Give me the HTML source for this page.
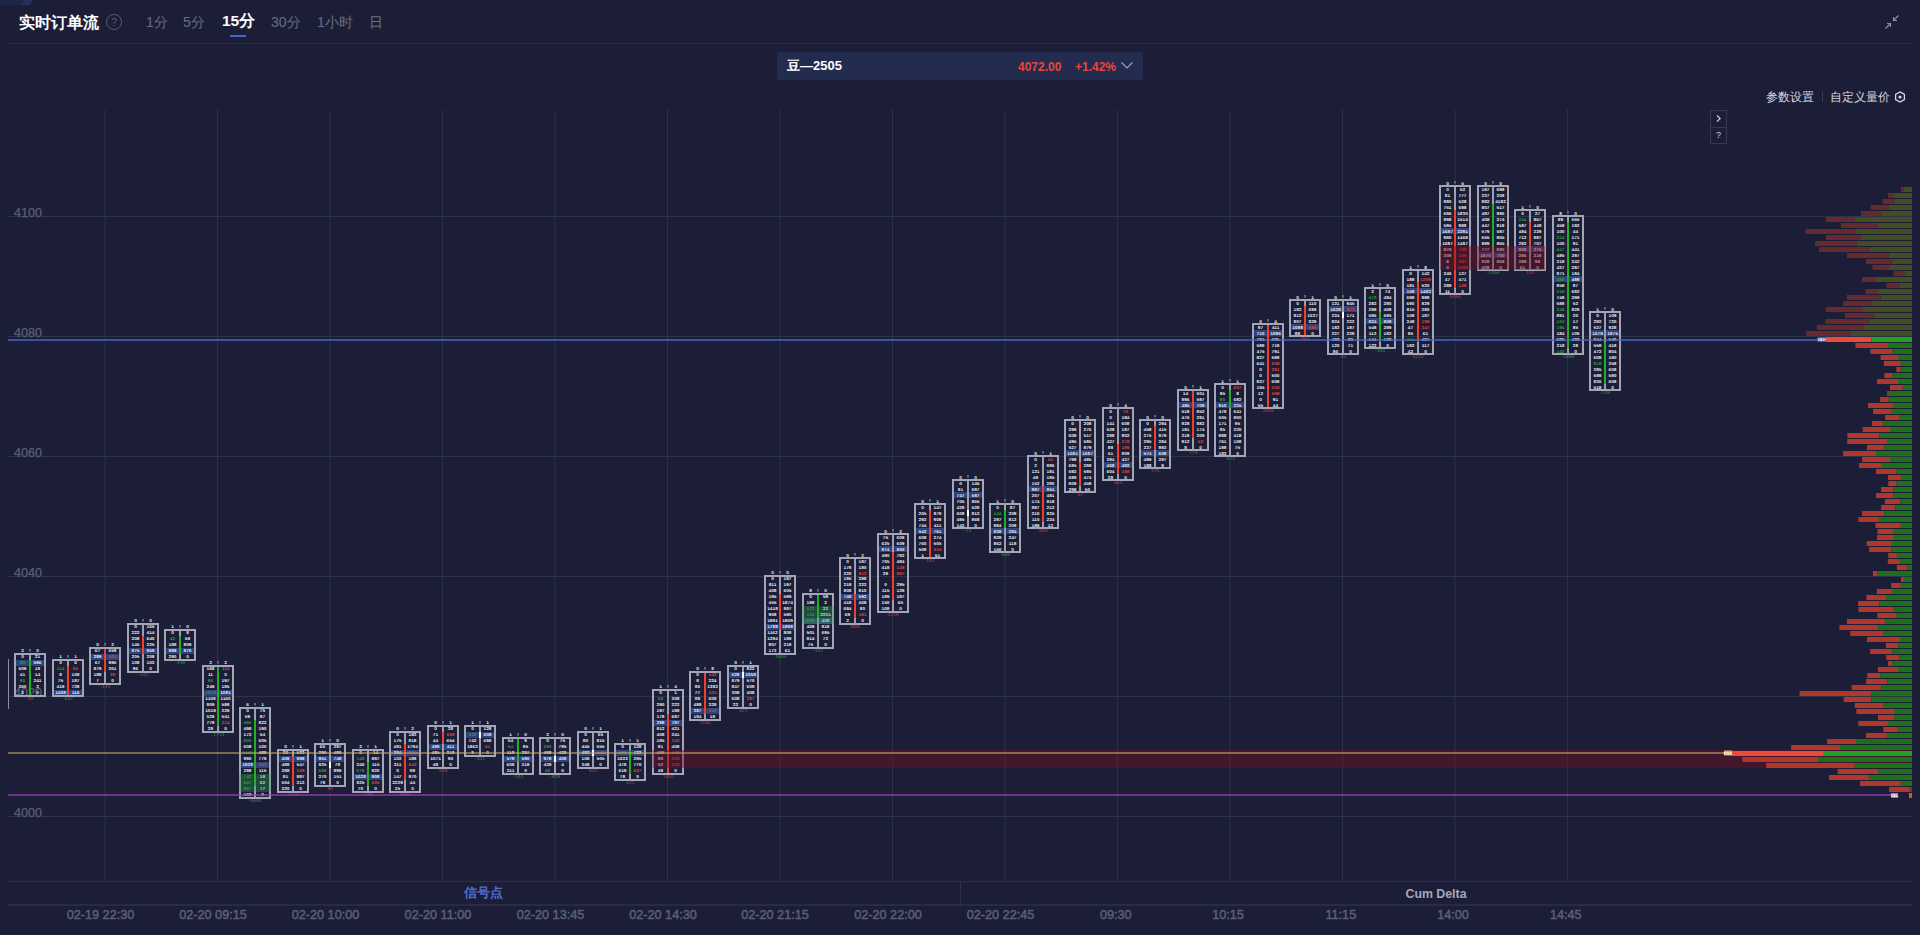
<!DOCTYPE html>
<html><head><meta charset="utf-8"><title>实时订单流</title>
<style>
html,body{margin:0;padding:0;background:#1b1e36;width:1920px;height:935px;overflow:hidden;font-family:"Liberation Sans",sans-serif;}
.abs{position:absolute;white-space:nowrap;}
svg{position:absolute;left:0;top:0;}
svg text{font-family:"Liberation Sans",sans-serif;}
.yl{font-size:12.6px;fill:#5c6077;stroke:#5c6077;stroke-width:0.25px;}
.c{font-size:4.8px;font-weight:bold;fill:#e6e8f0;text-anchor:middle;}
.cg{font-size:4.8px;font-weight:bold;fill:#2f9a3a;text-anchor:middle;}
.cr{font-size:4.8px;font-weight:bold;fill:#d8443c;text-anchor:middle;}
.br{font-size:5px;fill:#c8383a;text-anchor:middle;}
.bg{font-size:5px;fill:#2e9a36;text-anchor:middle;}
.lab{font-size:4px;font-weight:bold;fill:#fff;text-anchor:middle;}
.sig{font-size:12.5px;fill:#4f6fd0;text-anchor:middle;font-weight:bold;}
.cum{font-size:13.5px;fill:#a4a8b8;text-anchor:middle;font-weight:bold;}
.tl{font-size:12.7px;fill:#5c6076;stroke:#5c6076;stroke-width:0.45px;text-anchor:middle;}
.tab{font-size:14px;color:#6a6e85;top:13px;line-height:18px;}
</style></head><body>
<div class="abs" style="left:0;top:0;width:30px;height:5px;background:#1f2545;"></div>
<div class="abs" style="left:22px;top:0;width:9px;height:5px;background:#253060;transform:skewX(-40deg);"></div>
<div class="abs" style="left:19px;top:12.5px;font-size:16px;font-weight:bold;color:#fff;line-height:20px;">实时订单流</div>
<div class="abs" style="left:106px;top:14px;width:14px;height:14px;border:1px solid #555a70;border-radius:50%;color:#555a70;font-size:11px;line-height:14px;text-align:center;">?</div>
<div class="abs tab" style="left:146px;">1分</div>
<div class="abs tab" style="left:183px;">5分</div>
<div class="abs tab" style="left:222px;top:12px;font-size:15.5px;font-weight:bold;color:#fff;">15分</div>
<div class="abs" style="left:230px;top:35px;width:16px;height:2px;background:#3f66d0;"></div>
<div class="abs tab" style="left:271px;">30分</div>
<div class="abs tab" style="left:317px;">1小时</div>
<div class="abs tab" style="left:369px;">日</div>
<div class="abs" style="left:8px;top:43px;width:1904px;height:1px;background:#252943;"></div>
<svg class="abs" style="left:1883px;top:13px" width="18" height="18" viewBox="0 0 18 18"><g stroke="#8a8ea0" stroke-width="1.2" fill="none"><path d="M2.5 15.5 L7.5 10.5 M4 10.5 H7.5 V14"/><path d="M15.5 2.5 L10.5 7.5 M14 7.5 H10.5 V4"/></g></svg>
<div class="abs" style="left:777px;top:52px;width:366px;height:28px;background:#232b4e;border-radius:2px;"></div>
<div class="abs" style="left:787px;top:57px;font-size:13px;font-weight:bold;color:#fff;line-height:18px;">豆—2505</div>
<div class="abs" style="left:1018px;top:58px;font-size:12px;font-weight:bold;color:#e8453f;line-height:18px;">4072.00</div>
<div class="abs" style="left:1075px;top:58px;font-size:12px;font-weight:bold;color:#e8453f;line-height:18px;">+1.42%</div>
<svg class="abs" style="left:1120px;top:60px" width="14" height="10" viewBox="0 0 14 10"><path d="M1.5 2.5 L7 8 L12.5 2.5" stroke="#9aa0b8" stroke-width="1.2" fill="none"/></svg>
<div class="abs" style="left:1766px;top:89px;font-size:12px;color:#d4d6de;line-height:16px;">参数设置</div>
<div class="abs" style="left:1822px;top:92px;width:1px;height:10px;background:#3a3e55;"></div>
<div class="abs" style="left:1830px;top:89px;font-size:12px;color:#d4d6de;line-height:16px;">自定义量价</div>
<svg class="abs" style="left:1894px;top:91px" width="12" height="12" viewBox="0 0 12 12"><path d="M6 0.9 L10.4 3.45 L10.4 8.55 L6 11.1 L1.6 8.55 L1.6 3.45 Z" stroke="#d4d6de" stroke-width="1.3" fill="none"/><circle cx="6" cy="6" r="1.6" fill="#d4d6de"/></svg>
<svg width="1920" height="935" viewBox="0 0 1920 935">
<rect x="104.5" y="110" width="1" height="770" fill="#2e3249"/>
<rect x="217.0" y="110" width="1" height="770" fill="#2e3249"/>
<rect x="329.5" y="110" width="1" height="770" fill="#2e3249"/>
<rect x="442.0" y="110" width="1" height="770" fill="#2e3249"/>
<rect x="554.5" y="110" width="1" height="770" fill="#2e3249"/>
<rect x="667.0" y="110" width="1" height="770" fill="#2e3249"/>
<rect x="779.5" y="110" width="1" height="770" fill="#2e3249"/>
<rect x="892.0" y="110" width="1" height="770" fill="#2e3249"/>
<rect x="1004.5" y="110" width="1" height="770" fill="#2e3249"/>
<rect x="1117.0" y="110" width="1" height="770" fill="#2e3249"/>
<rect x="1229.5" y="110" width="1" height="770" fill="#2e3249"/>
<rect x="1342.0" y="110" width="1" height="770" fill="#2e3249"/>
<rect x="1454.5" y="110" width="1" height="770" fill="#2e3249"/>
<rect x="1567.0" y="110" width="1" height="770" fill="#2e3249"/>
<rect x="8" y="216" width="1904" height="1" fill="#2e3249"/>
<rect x="8" y="336" width="1904" height="1" fill="#2e3249"/>
<rect x="8" y="456" width="1904" height="1" fill="#2e3249"/>
<rect x="8" y="576" width="1904" height="1" fill="#2e3249"/>
<rect x="8" y="696" width="1904" height="1" fill="#2e3249"/>
<rect x="8" y="816" width="1904" height="1" fill="#2e3249"/>
<text x="14" y="217" class="yl">4100</text>
<text x="14" y="337" class="yl">4080</text>
<text x="14" y="457" class="yl">4060</text>
<text x="14" y="577" class="yl">4040</text>
<text x="14" y="697" class="yl">4020</text>
<text x="14" y="817" class="yl">4000</text>
<rect x="15" y="660" width="30" height="6" fill="rgba(70,110,210,0.45)"/>
<rect x="29" y="654" width="2" height="42" fill="#9a9eb0"/>
<rect x="29" y="660" width="2" height="36" fill="#22b022"/>
<rect x="15" y="654" width="30" height="42" fill="none" stroke="#a2a6b6" stroke-width="2"/>
<rect x="29.1" y="649" width="1.8" height="2.6" fill="#6a6e82"/>
<rect x="53" y="690" width="30" height="6" fill="rgba(70,110,210,0.45)"/>
<rect x="67" y="660" width="2" height="36" fill="#9a9eb0"/>
<rect x="67" y="666" width="2" height="30" fill="#f0402c"/>
<rect x="53" y="660" width="30" height="36" fill="none" stroke="#a2a6b6" stroke-width="2"/>
<rect x="67.1" y="655" width="1.8" height="2.6" fill="#6a6e82"/>
<rect x="90" y="654" width="30" height="6" fill="rgba(70,110,210,0.45)"/>
<rect x="104" y="648" width="2" height="36" fill="#9a9eb0"/>
<rect x="104" y="648" width="2" height="24" fill="#f0402c"/>
<rect x="90" y="648" width="30" height="36" fill="none" stroke="#a2a6b6" stroke-width="2"/>
<rect x="104.1" y="643" width="1.8" height="2.6" fill="#6a6e82"/>
<rect x="128" y="648" width="30" height="6" fill="rgba(70,110,210,0.45)"/>
<rect x="142" y="624" width="2" height="48" fill="#9a9eb0"/>
<rect x="142" y="636" width="2" height="18" fill="#f0402c"/>
<rect x="128" y="624" width="30" height="48" fill="none" stroke="#a2a6b6" stroke-width="2"/>
<rect x="142.1" y="619" width="1.8" height="2.6" fill="#6a6e82"/>
<rect x="165" y="648" width="30" height="6" fill="rgba(70,110,210,0.45)"/>
<rect x="179" y="630" width="2" height="30" fill="#9a9eb0"/>
<rect x="179" y="636" width="2" height="18" fill="#22b022"/>
<rect x="165" y="630" width="30" height="30" fill="none" stroke="#a2a6b6" stroke-width="2"/>
<rect x="179.1" y="625" width="1.8" height="2.6" fill="#6a6e82"/>
<rect x="203" y="690" width="30" height="6" fill="rgba(70,110,210,0.45)"/>
<rect x="217" y="666" width="2" height="66" fill="#9a9eb0"/>
<rect x="217" y="666" width="2" height="60" fill="#22b022"/>
<rect x="203" y="666" width="30" height="66" fill="none" stroke="#a2a6b6" stroke-width="2"/>
<rect x="217.1" y="661" width="1.8" height="2.6" fill="#6a6e82"/>
<rect x="240" y="762" width="30" height="6" fill="rgba(70,110,210,0.45)"/>
<rect x="254" y="708" width="2" height="90" fill="#9a9eb0"/>
<rect x="254" y="720" width="2" height="66" fill="#22b022"/>
<rect x="240" y="708" width="30" height="90" fill="none" stroke="#a2a6b6" stroke-width="2"/>
<rect x="254.1" y="703" width="1.8" height="2.6" fill="#6a6e82"/>
<rect x="278" y="756" width="30" height="6" fill="rgba(70,110,210,0.45)"/>
<rect x="292" y="750" width="2" height="42" fill="#9a9eb0"/>
<rect x="292" y="756" width="2" height="30" fill="#f0402c"/>
<rect x="278" y="750" width="30" height="42" fill="none" stroke="#a2a6b6" stroke-width="2"/>
<rect x="292.1" y="745" width="1.8" height="2.6" fill="#6a6e82"/>
<rect x="315" y="756" width="30" height="6" fill="rgba(70,110,210,0.45)"/>
<rect x="329" y="744" width="2" height="42" fill="#9a9eb0"/>
<rect x="329" y="762" width="2" height="6" fill="#ffffff"/>
<rect x="315" y="744" width="30" height="42" fill="none" stroke="#a2a6b6" stroke-width="2"/>
<rect x="329.1" y="739" width="1.8" height="2.6" fill="#6a6e82"/>
<rect x="353" y="774" width="30" height="6" fill="rgba(70,110,210,0.45)"/>
<rect x="367" y="750" width="2" height="42" fill="#9a9eb0"/>
<rect x="367" y="762" width="2" height="24" fill="#22b022"/>
<rect x="353" y="750" width="30" height="42" fill="none" stroke="#a2a6b6" stroke-width="2"/>
<rect x="367.1" y="745" width="1.8" height="2.6" fill="#6a6e82"/>
<rect x="390" y="750" width="30" height="6" fill="rgba(70,110,210,0.45)"/>
<rect x="404" y="732" width="2" height="60" fill="#9a9eb0"/>
<rect x="404" y="744" width="2" height="36" fill="#f0402c"/>
<rect x="390" y="732" width="30" height="60" fill="none" stroke="#a2a6b6" stroke-width="2"/>
<rect x="404.1" y="727" width="1.8" height="2.6" fill="#6a6e82"/>
<rect x="428" y="744" width="30" height="6" fill="rgba(70,110,210,0.45)"/>
<rect x="442" y="726" width="2" height="42" fill="#9a9eb0"/>
<rect x="442" y="732" width="2" height="12" fill="#f0402c"/>
<rect x="428" y="726" width="30" height="42" fill="none" stroke="#a2a6b6" stroke-width="2"/>
<rect x="442.1" y="721" width="1.8" height="2.6" fill="#6a6e82"/>
<rect x="465" y="732" width="30" height="6" fill="rgba(70,110,210,0.45)"/>
<rect x="479" y="726" width="2" height="30" fill="#9a9eb0"/>
<rect x="479" y="732" width="2" height="6" fill="#ffffff"/>
<rect x="465" y="726" width="30" height="30" fill="none" stroke="#a2a6b6" stroke-width="2"/>
<rect x="479.1" y="721" width="1.8" height="2.6" fill="#6a6e82"/>
<rect x="503" y="756" width="30" height="6" fill="rgba(70,110,210,0.45)"/>
<rect x="517" y="738" width="2" height="36" fill="#9a9eb0"/>
<rect x="517" y="738" width="2" height="24" fill="#22b022"/>
<rect x="503" y="738" width="30" height="36" fill="none" stroke="#a2a6b6" stroke-width="2"/>
<rect x="517.1" y="733" width="1.8" height="2.6" fill="#6a6e82"/>
<rect x="540" y="756" width="30" height="6" fill="rgba(70,110,210,0.45)"/>
<rect x="554" y="738" width="2" height="36" fill="#9a9eb0"/>
<rect x="554" y="756" width="2" height="6" fill="#ffffff"/>
<rect x="540" y="738" width="30" height="36" fill="none" stroke="#a2a6b6" stroke-width="2"/>
<rect x="554.1" y="733" width="1.8" height="2.6" fill="#6a6e82"/>
<rect x="578" y="750" width="30" height="6" fill="rgba(70,110,210,0.45)"/>
<rect x="592" y="732" width="2" height="36" fill="#9a9eb0"/>
<rect x="592" y="750" width="2" height="6" fill="#ffffff"/>
<rect x="578" y="732" width="30" height="36" fill="none" stroke="#a2a6b6" stroke-width="2"/>
<rect x="592.1" y="727" width="1.8" height="2.6" fill="#6a6e82"/>
<rect x="615" y="750" width="30" height="6" fill="rgba(70,110,210,0.45)"/>
<rect x="629" y="744" width="2" height="36" fill="#9a9eb0"/>
<rect x="629" y="750" width="2" height="24" fill="#22b022"/>
<rect x="615" y="744" width="30" height="36" fill="none" stroke="#a2a6b6" stroke-width="2"/>
<rect x="629.1" y="739" width="1.8" height="2.6" fill="#6a6e82"/>
<rect x="653" y="720" width="30" height="6" fill="rgba(70,110,210,0.45)"/>
<rect x="667" y="690" width="2" height="84" fill="#9a9eb0"/>
<rect x="667" y="714" width="2" height="60" fill="#f0402c"/>
<rect x="653" y="690" width="30" height="84" fill="none" stroke="#a2a6b6" stroke-width="2"/>
<rect x="667.1" y="685" width="1.8" height="2.6" fill="#6a6e82"/>
<rect x="690" y="708" width="30" height="6" fill="rgba(70,110,210,0.45)"/>
<rect x="704" y="672" width="2" height="48" fill="#9a9eb0"/>
<rect x="704" y="672" width="2" height="42" fill="#f0402c"/>
<rect x="690" y="672" width="30" height="48" fill="none" stroke="#a2a6b6" stroke-width="2"/>
<rect x="704.1" y="667" width="1.8" height="2.6" fill="#6a6e82"/>
<rect x="728" y="672" width="30" height="6" fill="rgba(70,110,210,0.45)"/>
<rect x="742" y="666" width="2" height="42" fill="#9a9eb0"/>
<rect x="742" y="672" width="2" height="6" fill="#ffffff"/>
<rect x="728" y="666" width="30" height="42" fill="none" stroke="#a2a6b6" stroke-width="2"/>
<rect x="742.1" y="661" width="1.8" height="2.6" fill="#6a6e82"/>
<rect x="765" y="624" width="30" height="6" fill="rgba(70,110,210,0.45)"/>
<rect x="779" y="576" width="2" height="78" fill="#9a9eb0"/>
<rect x="779" y="594" width="2" height="36" fill="#f0402c"/>
<rect x="765" y="576" width="30" height="78" fill="none" stroke="#a2a6b6" stroke-width="2"/>
<rect x="779.1" y="571" width="1.8" height="2.6" fill="#6a6e82"/>
<rect x="803" y="618" width="30" height="6" fill="rgba(70,110,210,0.45)"/>
<rect x="817" y="594" width="2" height="54" fill="#9a9eb0"/>
<rect x="817" y="594" width="2" height="24" fill="#22b022"/>
<rect x="803" y="594" width="30" height="54" fill="none" stroke="#a2a6b6" stroke-width="2"/>
<rect x="817.1" y="589" width="1.8" height="2.6" fill="#6a6e82"/>
<rect x="840" y="594" width="30" height="6" fill="rgba(70,110,210,0.45)"/>
<rect x="854" y="558" width="2" height="66" fill="#9a9eb0"/>
<rect x="854" y="594" width="2" height="24" fill="#f0402c"/>
<rect x="840" y="558" width="30" height="66" fill="none" stroke="#a2a6b6" stroke-width="2"/>
<rect x="854.1" y="553" width="1.8" height="2.6" fill="#6a6e82"/>
<rect x="878" y="546" width="30" height="6" fill="rgba(70,110,210,0.45)"/>
<rect x="892" y="534" width="2" height="78" fill="#9a9eb0"/>
<rect x="892" y="552" width="2" height="48" fill="#f0402c"/>
<rect x="878" y="534" width="30" height="78" fill="none" stroke="#a2a6b6" stroke-width="2"/>
<rect x="892.1" y="529" width="1.8" height="2.6" fill="#6a6e82"/>
<rect x="915" y="528" width="30" height="6" fill="rgba(70,110,210,0.45)"/>
<rect x="929" y="504" width="2" height="54" fill="#9a9eb0"/>
<rect x="929" y="510" width="2" height="48" fill="#f0402c"/>
<rect x="915" y="504" width="30" height="54" fill="none" stroke="#a2a6b6" stroke-width="2"/>
<rect x="929.1" y="499" width="1.8" height="2.6" fill="#6a6e82"/>
<rect x="953" y="492" width="30" height="6" fill="rgba(70,110,210,0.45)"/>
<rect x="967" y="480" width="2" height="48" fill="#9a9eb0"/>
<rect x="967" y="510" width="2" height="6" fill="#ffffff"/>
<rect x="953" y="480" width="30" height="48" fill="none" stroke="#a2a6b6" stroke-width="2"/>
<rect x="967.1" y="475" width="1.8" height="2.6" fill="#6a6e82"/>
<rect x="990" y="528" width="30" height="6" fill="rgba(70,110,210,0.45)"/>
<rect x="1004" y="504" width="2" height="48" fill="#9a9eb0"/>
<rect x="1004" y="510" width="2" height="18" fill="#22b022"/>
<rect x="990" y="504" width="30" height="48" fill="none" stroke="#a2a6b6" stroke-width="2"/>
<rect x="1004.1" y="499" width="1.8" height="2.6" fill="#6a6e82"/>
<rect x="1028" y="486" width="30" height="6" fill="rgba(70,110,210,0.45)"/>
<rect x="1042" y="456" width="2" height="72" fill="#9a9eb0"/>
<rect x="1042" y="486" width="2" height="36" fill="#f0402c"/>
<rect x="1028" y="456" width="30" height="72" fill="none" stroke="#a2a6b6" stroke-width="2"/>
<rect x="1042.1" y="451" width="1.8" height="2.6" fill="#6a6e82"/>
<rect x="1065" y="450" width="30" height="6" fill="rgba(70,110,210,0.45)"/>
<rect x="1079" y="420" width="2" height="72" fill="#9a9eb0"/>
<rect x="1079" y="462" width="2" height="24" fill="#f0402c"/>
<rect x="1065" y="420" width="30" height="72" fill="none" stroke="#a2a6b6" stroke-width="2"/>
<rect x="1079.1" y="415" width="1.8" height="2.6" fill="#6a6e82"/>
<rect x="1103" y="462" width="30" height="6" fill="rgba(70,110,210,0.45)"/>
<rect x="1117" y="408" width="2" height="72" fill="#9a9eb0"/>
<rect x="1117" y="444" width="2" height="30" fill="#f0402c"/>
<rect x="1103" y="408" width="30" height="72" fill="none" stroke="#a2a6b6" stroke-width="2"/>
<rect x="1117.1" y="403" width="1.8" height="2.6" fill="#6a6e82"/>
<rect x="1140" y="450" width="30" height="6" fill="rgba(70,110,210,0.45)"/>
<rect x="1154" y="420" width="2" height="48" fill="#9a9eb0"/>
<rect x="1154" y="426" width="2" height="24" fill="#f0402c"/>
<rect x="1140" y="420" width="30" height="48" fill="none" stroke="#a2a6b6" stroke-width="2"/>
<rect x="1154.1" y="415" width="1.8" height="2.6" fill="#6a6e82"/>
<rect x="1178" y="402" width="30" height="6" fill="rgba(70,110,210,0.45)"/>
<rect x="1192" y="390" width="2" height="60" fill="#9a9eb0"/>
<rect x="1192" y="390" width="2" height="48" fill="#f0402c"/>
<rect x="1178" y="390" width="30" height="60" fill="none" stroke="#a2a6b6" stroke-width="2"/>
<rect x="1192.1" y="385" width="1.8" height="2.6" fill="#6a6e82"/>
<rect x="1215" y="402" width="30" height="6" fill="rgba(70,110,210,0.45)"/>
<rect x="1229" y="384" width="2" height="72" fill="#9a9eb0"/>
<rect x="1229" y="390" width="2" height="18" fill="#22b022"/>
<rect x="1215" y="384" width="30" height="72" fill="none" stroke="#a2a6b6" stroke-width="2"/>
<rect x="1229.1" y="379" width="1.8" height="2.6" fill="#6a6e82"/>
<rect x="1253" y="330" width="30" height="6" fill="rgba(70,110,210,0.45)"/>
<rect x="1267" y="324" width="2" height="84" fill="#9a9eb0"/>
<rect x="1267" y="324" width="2" height="84" fill="#f0402c"/>
<rect x="1253" y="324" width="30" height="84" fill="none" stroke="#a2a6b6" stroke-width="2"/>
<rect x="1267.1" y="319" width="1.8" height="2.6" fill="#6a6e82"/>
<rect x="1290" y="324" width="30" height="6" fill="rgba(70,110,210,0.45)"/>
<rect x="1304" y="300" width="2" height="36" fill="#9a9eb0"/>
<rect x="1304" y="306" width="2" height="30" fill="#f0402c"/>
<rect x="1290" y="300" width="30" height="36" fill="none" stroke="#a2a6b6" stroke-width="2"/>
<rect x="1304.1" y="295" width="1.8" height="2.6" fill="#6a6e82"/>
<rect x="1328" y="306" width="30" height="6" fill="rgba(70,110,210,0.45)"/>
<rect x="1342" y="300" width="2" height="54" fill="#9a9eb0"/>
<rect x="1342" y="312" width="2" height="6" fill="#ffffff"/>
<rect x="1328" y="300" width="30" height="54" fill="none" stroke="#a2a6b6" stroke-width="2"/>
<rect x="1342.1" y="295" width="1.8" height="2.6" fill="#6a6e82"/>
<rect x="1365" y="318" width="30" height="6" fill="rgba(70,110,210,0.45)"/>
<rect x="1379" y="288" width="2" height="60" fill="#9a9eb0"/>
<rect x="1379" y="312" width="2" height="30" fill="#22b022"/>
<rect x="1365" y="288" width="30" height="60" fill="none" stroke="#a2a6b6" stroke-width="2"/>
<rect x="1379.1" y="283" width="1.8" height="2.6" fill="#6a6e82"/>
<rect x="1403" y="288" width="30" height="6" fill="rgba(70,110,210,0.45)"/>
<rect x="1417" y="270" width="2" height="84" fill="#9a9eb0"/>
<rect x="1417" y="282" width="2" height="60" fill="#f0402c"/>
<rect x="1403" y="270" width="30" height="84" fill="none" stroke="#a2a6b6" stroke-width="2"/>
<rect x="1417.1" y="265" width="1.8" height="2.6" fill="#6a6e82"/>
<rect x="1440" y="228" width="30" height="6" fill="rgba(70,110,210,0.45)"/>
<rect x="1454" y="186" width="2" height="108" fill="#9a9eb0"/>
<rect x="1454" y="210" width="2" height="78" fill="#f0402c"/>
<rect x="1440" y="186" width="30" height="108" fill="none" stroke="#a2a6b6" stroke-width="2"/>
<rect x="1454.1" y="181" width="1.8" height="2.6" fill="#6a6e82"/>
<rect x="1478" y="252" width="30" height="6" fill="rgba(70,110,210,0.45)"/>
<rect x="1492" y="186" width="2" height="84" fill="#9a9eb0"/>
<rect x="1492" y="204" width="2" height="42" fill="#22b022"/>
<rect x="1478" y="186" width="30" height="84" fill="none" stroke="#a2a6b6" stroke-width="2"/>
<rect x="1492.1" y="181" width="1.8" height="2.6" fill="#6a6e82"/>
<rect x="1515" y="246" width="30" height="6" fill="rgba(70,110,210,0.45)"/>
<rect x="1529" y="210" width="2" height="60" fill="#9a9eb0"/>
<rect x="1529" y="222" width="2" height="24" fill="#f0402c"/>
<rect x="1515" y="210" width="30" height="60" fill="none" stroke="#a2a6b6" stroke-width="2"/>
<rect x="1529.1" y="205" width="1.8" height="2.6" fill="#6a6e82"/>
<rect x="1553" y="276" width="30" height="6" fill="rgba(70,110,210,0.45)"/>
<rect x="1567" y="216" width="2" height="138" fill="#9a9eb0"/>
<rect x="1567" y="222" width="2" height="126" fill="#22b022"/>
<rect x="1553" y="216" width="30" height="138" fill="none" stroke="#a2a6b6" stroke-width="2"/>
<rect x="1567.1" y="211" width="1.8" height="2.6" fill="#6a6e82"/>
<rect x="1590" y="330" width="30" height="6" fill="rgba(70,110,210,0.45)"/>
<rect x="1604" y="312" width="2" height="78" fill="#9a9eb0"/>
<rect x="1604" y="342" width="2" height="42" fill="#22b022"/>
<rect x="1590" y="312" width="30" height="78" fill="none" stroke="#a2a6b6" stroke-width="2"/>
<rect x="1604.1" y="307" width="1.8" height="2.6" fill="#6a6e82"/>
<g transform="scale(1,0.87)" text-rendering="geometricPrecision">
<text x="22.5" y="748.97" class="c">2</text>
<text x="37.5" y="748.97" class="c">0</text>
<text x="30" y="804.60" class="br">-52</text>
<text x="22.5" y="755.86" class="c">0</text>
<text x="37.5" y="755.86" class="c">21</text>
<text x="22.5" y="762.76" class="cg">80</text>
<text x="37.5" y="762.76" class="c">596</text>
<text x="22.5" y="769.66" class="c">609</text>
<text x="37.5" y="769.66" class="c">18</text>
<text x="22.5" y="776.55" class="c">41</text>
<text x="37.5" y="776.55" class="c">14</text>
<text x="22.5" y="783.45" class="cg">90</text>
<text x="37.5" y="783.45" class="c">241</text>
<text x="22.5" y="790.34" class="c">260</text>
<text x="37.5" y="790.34" class="c">2</text>
<text x="22.5" y="797.24" class="c">2</text>
<text x="37.5" y="797.24" class="c">0</text>
<text x="60.5" y="755.86" class="c">1</text>
<text x="75.5" y="755.86" class="c">1</text>
<text x="68" y="804.60" class="bg">-647</text>
<text x="60.5" y="762.76" class="c">0</text>
<text x="75.5" y="762.76" class="c">6</text>
<text x="60.5" y="769.66" class="cg">114</text>
<text x="75.5" y="769.66" class="cr">85</text>
<text x="60.5" y="776.55" class="c">8</text>
<text x="75.5" y="776.55" class="c">108</text>
<text x="60.5" y="783.45" class="c">75</text>
<text x="75.5" y="783.45" class="c">187</text>
<text x="60.5" y="790.34" class="c">419</text>
<text x="75.5" y="790.34" class="c">728</text>
<text x="60.5" y="797.24" class="c">1408</text>
<text x="75.5" y="797.24" class="c">116</text>
<text x="97.5" y="742.07" class="c">0</text>
<text x="112.5" y="742.07" class="c">2</text>
<text x="105" y="790.80" class="br">-144</text>
<text x="97.5" y="748.97" class="c">67</text>
<text x="112.5" y="748.97" class="c">659</text>
<text x="97.5" y="755.86" class="c">289</text>
<text x="112.5" y="755.86" class="cr">524</text>
<text x="97.5" y="762.76" class="c">67</text>
<text x="112.5" y="762.76" class="c">896</text>
<text x="97.5" y="769.66" class="c">879</text>
<text x="112.5" y="769.66" class="c">261</text>
<text x="97.5" y="776.55" class="c">188</text>
<text x="112.5" y="776.55" class="cr">29</text>
<text x="97.5" y="783.45" class="c">7</text>
<text x="112.5" y="783.45" class="c">0</text>
<text x="135.5" y="714.48" class="c">0</text>
<text x="150.5" y="714.48" class="c">0</text>
<text x="143" y="777.01" class="br">-442</text>
<text x="135.5" y="721.38" class="c">0</text>
<text x="150.5" y="721.38" class="c">165</text>
<text x="135.5" y="728.28" class="c">222</text>
<text x="150.5" y="728.28" class="c">414</text>
<text x="135.5" y="735.17" class="c">208</text>
<text x="150.5" y="735.17" class="c">640</text>
<text x="135.5" y="742.07" class="c">145</text>
<text x="150.5" y="742.07" class="c">225</text>
<text x="135.5" y="748.97" class="c">875</text>
<text x="150.5" y="748.97" class="c">869</text>
<text x="135.5" y="755.86" class="c">205</text>
<text x="150.5" y="755.86" class="c">208</text>
<text x="135.5" y="762.76" class="c">108</text>
<text x="150.5" y="762.76" class="c">102</text>
<text x="135.5" y="769.66" class="c">96</text>
<text x="150.5" y="769.66" class="c">0</text>
<text x="172.5" y="721.38" class="c">1</text>
<text x="187.5" y="721.38" class="c">0</text>
<text x="180" y="763.22" class="bg">-449</text>
<text x="172.5" y="728.28" class="c">0</text>
<text x="187.5" y="728.28" class="c">8</text>
<text x="172.5" y="735.17" class="cg">42</text>
<text x="187.5" y="735.17" class="c">58</text>
<text x="172.5" y="742.07" class="c">188</text>
<text x="187.5" y="742.07" class="c">809</text>
<text x="172.5" y="748.97" class="c">888</text>
<text x="187.5" y="748.97" class="c">870</text>
<text x="172.5" y="755.86" class="c">290</text>
<text x="187.5" y="755.86" class="c">0</text>
<text x="210.5" y="762.76" class="c">2</text>
<text x="225.5" y="762.76" class="c">2</text>
<text x="218" y="845.98" class="bg">-1714</text>
<text x="210.5" y="769.66" class="c">168</text>
<text x="225.5" y="769.66" class="cr">116</text>
<text x="210.5" y="776.55" class="c">11</text>
<text x="225.5" y="776.55" class="c">0</text>
<text x="210.5" y="783.45" class="cg">86</text>
<text x="225.5" y="783.45" class="c">197</text>
<text x="210.5" y="790.34" class="c">249</text>
<text x="225.5" y="790.34" class="c">185</text>
<text x="210.5" y="797.24" class="cg">1818</text>
<text x="225.5" y="797.24" class="c">1081</text>
<text x="210.5" y="804.14" class="c">1108</text>
<text x="225.5" y="804.14" class="c">1160</text>
<text x="210.5" y="811.03" class="c">809</text>
<text x="225.5" y="811.03" class="c">588</text>
<text x="210.5" y="817.93" class="c">1019</text>
<text x="225.5" y="817.93" class="c">229</text>
<text x="210.5" y="824.83" class="c">529</text>
<text x="225.5" y="824.83" class="c">541</text>
<text x="210.5" y="831.72" class="c">779</text>
<text x="225.5" y="831.72" class="cr">214</text>
<text x="210.5" y="838.62" class="c">28</text>
<text x="225.5" y="838.62" class="c">0</text>
<text x="247.5" y="811.03" class="c">6</text>
<text x="262.5" y="811.03" class="c">1</text>
<text x="255" y="921.84" class="bg">-4646</text>
<text x="247.5" y="817.93" class="c">0</text>
<text x="262.5" y="817.93" class="c">75</text>
<text x="247.5" y="824.83" class="c">59</text>
<text x="262.5" y="824.83" class="c">87</text>
<text x="247.5" y="831.72" class="cg">595</text>
<text x="262.5" y="831.72" class="c">822</text>
<text x="247.5" y="838.62" class="c">498</text>
<text x="262.5" y="838.62" class="c">190</text>
<text x="247.5" y="845.52" class="c">172</text>
<text x="262.5" y="845.52" class="c">54</text>
<text x="247.5" y="852.41" class="cg">605</text>
<text x="262.5" y="852.41" class="c">605</text>
<text x="247.5" y="859.31" class="c">608</text>
<text x="262.5" y="859.31" class="c">100</text>
<text x="247.5" y="866.21" class="cg">1440</text>
<text x="262.5" y="866.21" class="c">488</text>
<text x="247.5" y="873.10" class="c">990</text>
<text x="262.5" y="873.10" class="c">779</text>
<text x="247.5" y="880.00" class="c">1928</text>
<text x="262.5" y="880.00" class="cr">962</text>
<text x="247.5" y="886.90" class="c">298</text>
<text x="262.5" y="886.90" class="c">115</text>
<text x="247.5" y="893.79" class="cg">742</text>
<text x="262.5" y="893.79" class="c">18</text>
<text x="247.5" y="900.69" class="cg">647</text>
<text x="262.5" y="900.69" class="c">62</text>
<text x="247.5" y="907.59" class="cg">897</text>
<text x="262.5" y="907.59" class="c">77</text>
<text x="247.5" y="914.48" class="c">168</text>
<text x="262.5" y="914.48" class="c">0</text>
<text x="285.5" y="859.31" class="c">0</text>
<text x="300.5" y="859.31" class="c">1</text>
<text x="293" y="914.94" class="br">1616</text>
<text x="285.5" y="866.21" class="c">20</text>
<text x="300.5" y="866.21" class="c">522</text>
<text x="285.5" y="873.10" class="c">408</text>
<text x="300.5" y="873.10" class="c">988</text>
<text x="285.5" y="880.00" class="c">488</text>
<text x="300.5" y="880.00" class="c">547</text>
<text x="285.5" y="886.90" class="c">288</text>
<text x="300.5" y="886.90" class="cr">249</text>
<text x="285.5" y="893.79" class="c">81</text>
<text x="300.5" y="893.79" class="c">887</text>
<text x="285.5" y="900.69" class="c">504</text>
<text x="300.5" y="900.69" class="c">212</text>
<text x="285.5" y="907.59" class="c">220</text>
<text x="300.5" y="907.59" class="c">0</text>
<text x="322.5" y="852.41" class="c">1</text>
<text x="337.5" y="852.41" class="c">0</text>
<text x="330" y="908.05" class="br">56</text>
<text x="322.5" y="859.31" class="c">65</text>
<text x="337.5" y="859.31" class="c">297</text>
<text x="322.5" y="866.21" class="c">290</text>
<text x="337.5" y="866.21" class="c">480</text>
<text x="322.5" y="873.10" class="c">851</text>
<text x="337.5" y="873.10" class="c">748</text>
<text x="322.5" y="880.00" class="c">825</text>
<text x="337.5" y="880.00" class="c">78</text>
<text x="322.5" y="886.90" class="cg">688</text>
<text x="337.5" y="886.90" class="c">899</text>
<text x="322.5" y="893.79" class="c">270</text>
<text x="337.5" y="893.79" class="c">151</text>
<text x="322.5" y="900.69" class="c">79</text>
<text x="337.5" y="900.69" class="c">0</text>
<text x="360.5" y="859.31" class="c">2</text>
<text x="375.5" y="859.31" class="c">1</text>
<text x="368" y="914.94" class="bg">-271</text>
<text x="360.5" y="866.21" class="c">0</text>
<text x="375.5" y="866.21" class="c">14</text>
<text x="360.5" y="873.10" class="cg">148</text>
<text x="375.5" y="873.10" class="c">887</text>
<text x="360.5" y="880.00" class="c">240</text>
<text x="375.5" y="880.00" class="c">115</text>
<text x="360.5" y="886.90" class="cg">678</text>
<text x="375.5" y="886.90" class="c">820</text>
<text x="360.5" y="893.79" class="c">1028</text>
<text x="375.5" y="893.79" class="c">908</text>
<text x="360.5" y="900.69" class="c">825</text>
<text x="375.5" y="900.69" class="cr">605</text>
<text x="360.5" y="907.59" class="c">70</text>
<text x="375.5" y="907.59" class="c">0</text>
<text x="397.5" y="838.62" class="c">0</text>
<text x="412.5" y="838.62" class="c">2</text>
<text x="405" y="914.94" class="br">5474</text>
<text x="397.5" y="845.52" class="c">0</text>
<text x="412.5" y="845.52" class="c">182</text>
<text x="397.5" y="852.41" class="c">175</text>
<text x="412.5" y="852.41" class="c">818</text>
<text x="397.5" y="859.31" class="c">481</text>
<text x="412.5" y="859.31" class="c">1784</text>
<text x="397.5" y="866.21" class="c">384</text>
<text x="412.5" y="866.21" class="cr">324</text>
<text x="397.5" y="873.10" class="c">102</text>
<text x="412.5" y="873.10" class="c">188</text>
<text x="397.5" y="880.00" class="c">211</text>
<text x="412.5" y="880.00" class="cr">642</text>
<text x="397.5" y="886.90" class="c">0</text>
<text x="412.5" y="886.90" class="c">98</text>
<text x="397.5" y="893.79" class="c">147</text>
<text x="412.5" y="893.79" class="c">870</text>
<text x="397.5" y="900.69" class="c">2229</text>
<text x="412.5" y="900.69" class="c">44</text>
<text x="397.5" y="907.59" class="c">25</text>
<text x="412.5" y="907.59" class="c">0</text>
<text x="435.5" y="831.72" class="c">0</text>
<text x="450.5" y="831.72" class="c">1</text>
<text x="443" y="887.36" class="br">545</text>
<text x="435.5" y="838.62" class="c">0</text>
<text x="450.5" y="838.62" class="c">28</text>
<text x="435.5" y="845.52" class="c">71</text>
<text x="450.5" y="845.52" class="cr">609</text>
<text x="435.5" y="852.41" class="c">44</text>
<text x="450.5" y="852.41" class="c">654</text>
<text x="435.5" y="859.31" class="c">488</text>
<text x="450.5" y="859.31" class="c">411</text>
<text x="435.5" y="866.21" class="c">485</text>
<text x="450.5" y="866.21" class="c">218</text>
<text x="435.5" y="873.10" class="c">1071</text>
<text x="450.5" y="873.10" class="c">90</text>
<text x="435.5" y="880.00" class="c">48</text>
<text x="450.5" y="880.00" class="c">0</text>
<text x="472.5" y="831.72" class="c">1</text>
<text x="487.5" y="831.72" class="c">1</text>
<text x="480" y="873.56" class="bg">-441</text>
<text x="472.5" y="838.62" class="c">0</text>
<text x="487.5" y="838.62" class="c">128</text>
<text x="472.5" y="845.52" class="cg">542</text>
<text x="487.5" y="845.52" class="c">608</text>
<text x="472.5" y="852.41" class="c">742</text>
<text x="487.5" y="852.41" class="c">698</text>
<text x="472.5" y="859.31" class="c">1862</text>
<text x="487.5" y="859.31" class="cr">51</text>
<text x="472.5" y="866.21" class="c">9</text>
<text x="487.5" y="866.21" class="c">0</text>
<text x="510.5" y="845.52" class="c">1</text>
<text x="525.5" y="845.52" class="c">0</text>
<text x="518" y="894.25" class="bg">-144</text>
<text x="510.5" y="852.41" class="c">54</text>
<text x="525.5" y="852.41" class="c">9</text>
<text x="510.5" y="859.31" class="cg">54</text>
<text x="525.5" y="859.31" class="c">95</text>
<text x="510.5" y="866.21" class="c">118</text>
<text x="525.5" y="866.21" class="c">287</text>
<text x="510.5" y="873.10" class="c">578</text>
<text x="525.5" y="873.10" class="c">590</text>
<text x="510.5" y="880.00" class="c">608</text>
<text x="525.5" y="880.00" class="c">218</text>
<text x="510.5" y="886.90" class="c">211</text>
<text x="525.5" y="886.90" class="c">0</text>
<text x="547.5" y="845.52" class="c">2</text>
<text x="562.5" y="845.52" class="c">0</text>
<text x="555" y="894.25" class="bg">-829</text>
<text x="547.5" y="852.41" class="c">0</text>
<text x="562.5" y="852.41" class="c">75</text>
<text x="547.5" y="859.31" class="cg">690</text>
<text x="562.5" y="859.31" class="c">785</text>
<text x="547.5" y="866.21" class="c">498</text>
<text x="562.5" y="866.21" class="c">428</text>
<text x="547.5" y="873.10" class="c">978</text>
<text x="562.5" y="873.10" class="c">408</text>
<text x="547.5" y="880.00" class="c">428</text>
<text x="562.5" y="880.00" class="c">4</text>
<text x="547.5" y="886.90" class="cg">48</text>
<text x="562.5" y="886.90" class="c">0</text>
<text x="585.5" y="838.62" class="c">0</text>
<text x="600.5" y="838.62" class="c">1</text>
<text x="593" y="887.36" class="br">542</text>
<text x="585.5" y="845.52" class="c">0</text>
<text x="600.5" y="845.52" class="c">65</text>
<text x="585.5" y="852.41" class="c">80</text>
<text x="600.5" y="852.41" class="c">815</text>
<text x="585.5" y="859.31" class="c">445</text>
<text x="600.5" y="859.31" class="c">555</text>
<text x="585.5" y="866.21" class="c">492</text>
<text x="600.5" y="866.21" class="cr">518</text>
<text x="585.5" y="873.10" class="c">108</text>
<text x="600.5" y="873.10" class="c">505</text>
<text x="585.5" y="880.00" class="c">248</text>
<text x="600.5" y="880.00" class="c">0</text>
<text x="622.5" y="852.41" class="c">1</text>
<text x="637.5" y="852.41" class="c">1</text>
<text x="630" y="901.15" class="br">142</text>
<text x="622.5" y="859.31" class="c">0</text>
<text x="637.5" y="859.31" class="c">128</text>
<text x="622.5" y="866.21" class="cg">588</text>
<text x="637.5" y="866.21" class="c">722</text>
<text x="622.5" y="873.10" class="c">1022</text>
<text x="637.5" y="873.10" class="c">295</text>
<text x="622.5" y="880.00" class="c">478</text>
<text x="637.5" y="880.00" class="c">770</text>
<text x="622.5" y="886.90" class="c">619</text>
<text x="637.5" y="886.90" class="cr">607</text>
<text x="622.5" y="893.79" class="c">78</text>
<text x="637.5" y="893.79" class="c">0</text>
<text x="660.5" y="790.34" class="c">1</text>
<text x="675.5" y="790.34" class="c">4</text>
<text x="668" y="894.25" class="br">1462</text>
<text x="660.5" y="797.24" class="c">0</text>
<text x="675.5" y="797.24" class="c">1</text>
<text x="660.5" y="804.14" class="cg">59</text>
<text x="675.5" y="804.14" class="c">208</text>
<text x="660.5" y="811.03" class="c">290</text>
<text x="675.5" y="811.03" class="c">222</text>
<text x="660.5" y="817.93" class="c">197</text>
<text x="675.5" y="817.93" class="c">198</text>
<text x="660.5" y="824.83" class="c">178</text>
<text x="675.5" y="824.83" class="c">687</text>
<text x="660.5" y="831.72" class="c">298</text>
<text x="675.5" y="831.72" class="c">787</text>
<text x="660.5" y="838.62" class="c">812</text>
<text x="675.5" y="838.62" class="c">421</text>
<text x="660.5" y="845.52" class="c">408</text>
<text x="675.5" y="845.52" class="c">241</text>
<text x="660.5" y="852.41" class="c">185</text>
<text x="675.5" y="852.41" class="cr">240</text>
<text x="660.5" y="859.31" class="c">81</text>
<text x="675.5" y="859.31" class="c">408</text>
<text x="660.5" y="866.21" class="c">488</text>
<text x="675.5" y="866.21" class="cr">528</text>
<text x="660.5" y="873.10" class="c">88</text>
<text x="675.5" y="873.10" class="cr">609</text>
<text x="660.5" y="880.00" class="c">52</text>
<text x="675.5" y="880.00" class="cr">218</text>
<text x="660.5" y="886.90" class="c">48</text>
<text x="675.5" y="886.90" class="c">0</text>
<text x="697.5" y="769.66" class="c">0</text>
<text x="712.5" y="769.66" class="c">8</text>
<text x="705" y="832.18" class="br">1196</text>
<text x="697.5" y="776.55" class="c">0</text>
<text x="712.5" y="776.55" class="cr">142</text>
<text x="697.5" y="783.45" class="c">8</text>
<text x="712.5" y="783.45" class="c">224</text>
<text x="697.5" y="790.34" class="c">86</text>
<text x="712.5" y="790.34" class="c">1382</text>
<text x="697.5" y="797.24" class="c">77</text>
<text x="712.5" y="797.24" class="cr">424</text>
<text x="697.5" y="804.14" class="c">88</text>
<text x="712.5" y="804.14" class="c">609</text>
<text x="697.5" y="811.03" class="c">488</text>
<text x="712.5" y="811.03" class="c">328</text>
<text x="697.5" y="817.93" class="c">387</text>
<text x="712.5" y="817.93" class="cr">512</text>
<text x="697.5" y="824.83" class="c">184</text>
<text x="712.5" y="824.83" class="c">18</text>
<text x="735.5" y="762.76" class="c">0</text>
<text x="750.5" y="762.76" class="c">1</text>
<text x="743" y="818.39" class="br">427</text>
<text x="735.5" y="769.66" class="c">0</text>
<text x="750.5" y="769.66" class="c">822</text>
<text x="735.5" y="776.55" class="c">528</text>
<text x="750.5" y="776.55" class="c">1058</text>
<text x="735.5" y="783.45" class="c">879</text>
<text x="750.5" y="783.45" class="c">570</text>
<text x="735.5" y="790.34" class="c">847</text>
<text x="750.5" y="790.34" class="c">609</text>
<text x="735.5" y="797.24" class="c">308</text>
<text x="750.5" y="797.24" class="c">408</text>
<text x="735.5" y="804.14" class="c">608</text>
<text x="750.5" y="804.14" class="cr">287</text>
<text x="735.5" y="811.03" class="c">22</text>
<text x="750.5" y="811.03" class="c">0</text>
<text x="772.5" y="659.31" class="c">0</text>
<text x="787.5" y="659.31" class="c">0</text>
<text x="780" y="756.32" class="bg">-1966</text>
<text x="772.5" y="666.21" class="c">0</text>
<text x="787.5" y="666.21" class="c">197</text>
<text x="772.5" y="673.10" class="c">811</text>
<text x="787.5" y="673.10" class="c">197</text>
<text x="772.5" y="680.00" class="c">408</text>
<text x="787.5" y="680.00" class="c">605</text>
<text x="772.5" y="686.90" class="c">195</text>
<text x="787.5" y="686.90" class="c">589</text>
<text x="772.5" y="693.79" class="c">455</text>
<text x="787.5" y="693.79" class="c">1874</text>
<text x="772.5" y="700.69" class="c">1418</text>
<text x="787.5" y="700.69" class="c">887</text>
<text x="772.5" y="707.59" class="c">908</text>
<text x="787.5" y="707.59" class="c">580</text>
<text x="772.5" y="714.48" class="c">1891</text>
<text x="787.5" y="714.48" class="c">1809</text>
<text x="772.5" y="721.38" class="c">1788</text>
<text x="787.5" y="721.38" class="c">1898</text>
<text x="772.5" y="728.28" class="c">1162</text>
<text x="787.5" y="728.28" class="c">808</text>
<text x="772.5" y="735.17" class="c">1284</text>
<text x="787.5" y="735.17" class="c">199</text>
<text x="772.5" y="742.07" class="c">807</text>
<text x="787.5" y="742.07" class="c">218</text>
<text x="772.5" y="748.97" class="c">172</text>
<text x="787.5" y="748.97" class="c">61</text>
<text x="810.5" y="680.00" class="c">8</text>
<text x="825.5" y="680.00" class="c">0</text>
<text x="818" y="749.43" class="bg">-122</text>
<text x="810.5" y="686.90" class="c">0</text>
<text x="825.5" y="686.90" class="c">59</text>
<text x="810.5" y="693.79" class="c">188</text>
<text x="825.5" y="693.79" class="c">2</text>
<text x="810.5" y="700.69" class="cg">122</text>
<text x="825.5" y="700.69" class="c">22</text>
<text x="810.5" y="707.59" class="cg">124</text>
<text x="825.5" y="707.59" class="c">2201</text>
<text x="810.5" y="714.48" class="cg">698</text>
<text x="825.5" y="714.48" class="c">408</text>
<text x="810.5" y="721.38" class="c">408</text>
<text x="825.5" y="721.38" class="c">818</text>
<text x="810.5" y="728.28" class="c">501</text>
<text x="825.5" y="728.28" class="c">695</text>
<text x="810.5" y="735.17" class="c">814</text>
<text x="825.5" y="735.17" class="c">72</text>
<text x="810.5" y="742.07" class="c">75</text>
<text x="825.5" y="742.07" class="c">0</text>
<text x="847.5" y="639.77" class="c">0</text>
<text x="862.5" y="639.77" class="c">2</text>
<text x="855" y="721.84" class="br">909</text>
<text x="847.5" y="646.67" class="c">0</text>
<text x="862.5" y="646.67" class="c">187</text>
<text x="847.5" y="653.56" class="c">178</text>
<text x="862.5" y="653.56" class="c">180</text>
<text x="847.5" y="660.46" class="c">220</text>
<text x="862.5" y="660.46" class="cr">912</text>
<text x="847.5" y="666.21" class="c">195</text>
<text x="862.5" y="666.21" class="c">298</text>
<text x="847.5" y="673.10" class="c">218</text>
<text x="862.5" y="673.10" class="c">222</text>
<text x="847.5" y="680.00" class="c">808</text>
<text x="862.5" y="680.00" class="c">810</text>
<text x="847.5" y="686.90" class="c">748</text>
<text x="862.5" y="686.90" class="c">592</text>
<text x="847.5" y="693.79" class="c">418</text>
<text x="862.5" y="693.79" class="c">408</text>
<text x="847.5" y="700.69" class="c">684</text>
<text x="862.5" y="700.69" class="c">80</text>
<text x="847.5" y="707.59" class="c">69</text>
<text x="862.5" y="707.59" class="cr">181</text>
<text x="847.5" y="714.48" class="c">2</text>
<text x="862.5" y="714.48" class="c">0</text>
<text x="885.5" y="612.18" class="c">0</text>
<text x="900.5" y="612.18" class="c">2</text>
<text x="893" y="708.05" class="br">1219</text>
<text x="885.5" y="619.08" class="c">75</text>
<text x="900.5" y="619.08" class="c">609</text>
<text x="885.5" y="625.98" class="c">625</text>
<text x="900.5" y="625.98" class="c">609</text>
<text x="885.5" y="632.87" class="c">874</text>
<text x="900.5" y="632.87" class="c">800</text>
<text x="885.5" y="639.77" class="c">480</text>
<text x="900.5" y="639.77" class="c">782</text>
<text x="885.5" y="646.67" class="c">705</text>
<text x="900.5" y="646.67" class="c">484</text>
<text x="885.5" y="653.56" class="c">418</text>
<text x="900.5" y="653.56" class="cr">148</text>
<text x="885.5" y="660.46" class="c">29</text>
<text x="900.5" y="660.46" class="cr">997</text>
<text x="885.5" y="673.10" class="c">0</text>
<text x="900.5" y="673.10" class="c">295</text>
<text x="885.5" y="680.00" class="c">115</text>
<text x="900.5" y="680.00" class="c">129</text>
<text x="885.5" y="686.90" class="c">189</text>
<text x="900.5" y="686.90" class="c">187</text>
<text x="885.5" y="693.79" class="c">150</text>
<text x="900.5" y="693.79" class="c">65</text>
<text x="885.5" y="700.69" class="c">108</text>
<text x="900.5" y="700.69" class="c">0</text>
<text x="922.5" y="577.70" class="c">0</text>
<text x="937.5" y="577.70" class="c">1</text>
<text x="930" y="645.98" class="br">152</text>
<text x="922.5" y="584.60" class="c">0</text>
<text x="937.5" y="584.60" class="c">147</text>
<text x="922.5" y="591.49" class="c">205</text>
<text x="937.5" y="591.49" class="c">879</text>
<text x="922.5" y="598.39" class="c">292</text>
<text x="937.5" y="598.39" class="c">908</text>
<text x="922.5" y="605.29" class="c">744</text>
<text x="937.5" y="605.29" class="c">411</text>
<text x="922.5" y="612.18" class="c">542</text>
<text x="937.5" y="612.18" class="c">761</text>
<text x="922.5" y="619.08" class="c">608</text>
<text x="937.5" y="619.08" class="c">274</text>
<text x="922.5" y="625.98" class="c">760</text>
<text x="937.5" y="625.98" class="c">505</text>
<text x="922.5" y="632.87" class="c">508</text>
<text x="937.5" y="632.87" class="cr">615</text>
<text x="922.5" y="639.77" class="c">1</text>
<text x="937.5" y="639.77" class="c">51</text>
<text x="960.5" y="550.11" class="c">0</text>
<text x="975.5" y="550.11" class="c">0</text>
<text x="968" y="611.49" class="bg">-74</text>
<text x="960.5" y="557.01" class="c">0</text>
<text x="975.5" y="557.01" class="c">145</text>
<text x="960.5" y="563.91" class="c">81</text>
<text x="975.5" y="563.91" class="c">687</text>
<text x="960.5" y="570.80" class="c">747</text>
<text x="975.5" y="570.80" class="c">587</text>
<text x="960.5" y="577.70" class="c">705</text>
<text x="975.5" y="577.70" class="c">865</text>
<text x="960.5" y="584.60" class="c">428</text>
<text x="975.5" y="584.60" class="c">528</text>
<text x="960.5" y="591.49" class="c">608</text>
<text x="975.5" y="591.49" class="c">812</text>
<text x="960.5" y="598.39" class="c">495</text>
<text x="975.5" y="598.39" class="c">868</text>
<text x="960.5" y="605.29" class="c">142</text>
<text x="975.5" y="605.29" class="c">0</text>
<text x="997.5" y="577.70" class="c">1</text>
<text x="1012.5" y="577.70" class="c">0</text>
<text x="1005" y="639.08" class="bg">-599</text>
<text x="997.5" y="584.60" class="c">0</text>
<text x="1012.5" y="584.60" class="c">87</text>
<text x="997.5" y="591.49" class="cg">144</text>
<text x="1012.5" y="591.49" class="c">208</text>
<text x="997.5" y="598.39" class="c">287</text>
<text x="1012.5" y="598.39" class="c">812</text>
<text x="997.5" y="605.29" class="c">884</text>
<text x="1012.5" y="605.29" class="c">209</text>
<text x="997.5" y="612.18" class="c">828</text>
<text x="1012.5" y="612.18" class="c">284</text>
<text x="997.5" y="619.08" class="c">828</text>
<text x="1012.5" y="619.08" class="c">247</text>
<text x="997.5" y="625.98" class="c">862</text>
<text x="1012.5" y="625.98" class="c">118</text>
<text x="997.5" y="632.87" class="c">150</text>
<text x="1012.5" y="632.87" class="c">0</text>
<text x="1035.5" y="522.53" class="c">0</text>
<text x="1050.5" y="522.53" class="c">1</text>
<text x="1043" y="611.49" class="br">899</text>
<text x="1035.5" y="529.43" class="c">0</text>
<text x="1050.5" y="529.43" class="cr">51</text>
<text x="1035.5" y="536.32" class="c">2</text>
<text x="1050.5" y="536.32" class="c">886</text>
<text x="1035.5" y="543.22" class="c">121</text>
<text x="1050.5" y="543.22" class="c">181</text>
<text x="1035.5" y="550.11" class="c">49</text>
<text x="1050.5" y="550.11" class="c">195</text>
<text x="1035.5" y="557.01" class="c">152</text>
<text x="1050.5" y="557.01" class="c">280</text>
<text x="1035.5" y="563.91" class="c">887</text>
<text x="1050.5" y="563.91" class="c">851</text>
<text x="1035.5" y="570.80" class="c">207</text>
<text x="1050.5" y="570.80" class="c">481</text>
<text x="1035.5" y="577.70" class="c">174</text>
<text x="1050.5" y="577.70" class="c">818</text>
<text x="1035.5" y="584.60" class="c">887</text>
<text x="1050.5" y="584.60" class="c">212</text>
<text x="1035.5" y="591.49" class="c">210</text>
<text x="1050.5" y="591.49" class="c">825</text>
<text x="1035.5" y="598.39" class="c">110</text>
<text x="1050.5" y="598.39" class="c">224</text>
<text x="1035.5" y="605.29" class="c">189</text>
<text x="1050.5" y="605.29" class="c">12</text>
<text x="1072.5" y="481.15" class="c">0</text>
<text x="1087.5" y="481.15" class="c">0</text>
<text x="1080" y="570.11" class="br">67</text>
<text x="1072.5" y="488.05" class="c">0</text>
<text x="1087.5" y="488.05" class="c">208</text>
<text x="1072.5" y="494.94" class="c">298</text>
<text x="1087.5" y="494.94" class="c">276</text>
<text x="1072.5" y="501.84" class="c">608</text>
<text x="1087.5" y="501.84" class="c">517</text>
<text x="1072.5" y="508.74" class="c">495</text>
<text x="1087.5" y="508.74" class="c">585</text>
<text x="1072.5" y="515.63" class="c">527</text>
<text x="1087.5" y="515.63" class="c">879</text>
<text x="1072.5" y="522.53" class="c">1081</text>
<text x="1087.5" y="522.53" class="c">1087</text>
<text x="1072.5" y="529.43" class="c">798</text>
<text x="1087.5" y="529.43" class="c">485</text>
<text x="1072.5" y="536.32" class="c">685</text>
<text x="1087.5" y="536.32" class="c">298</text>
<text x="1072.5" y="543.22" class="c">692</text>
<text x="1087.5" y="543.22" class="c">585</text>
<text x="1072.5" y="550.11" class="c">689</text>
<text x="1087.5" y="550.11" class="c">474</text>
<text x="1072.5" y="557.01" class="c">808</text>
<text x="1087.5" y="557.01" class="c">459</text>
<text x="1072.5" y="563.91" class="c">298</text>
<text x="1087.5" y="563.91" class="c">50</text>
<text x="1110.5" y="467.36" class="c">0</text>
<text x="1125.5" y="467.36" class="c">4</text>
<text x="1118" y="556.32" class="br">664</text>
<text x="1110.5" y="474.25" class="c">0</text>
<text x="1125.5" y="474.25" class="cr">76</text>
<text x="1110.5" y="481.15" class="c">0</text>
<text x="1125.5" y="481.15" class="c">184</text>
<text x="1110.5" y="488.05" class="c">141</text>
<text x="1125.5" y="488.05" class="c">608</text>
<text x="1110.5" y="494.94" class="c">528</text>
<text x="1125.5" y="494.94" class="c">187</text>
<text x="1110.5" y="501.84" class="c">288</text>
<text x="1125.5" y="501.84" class="c">802</text>
<text x="1110.5" y="508.74" class="c">427</text>
<text x="1125.5" y="508.74" class="cr">278</text>
<text x="1110.5" y="515.63" class="c">88</text>
<text x="1125.5" y="515.63" class="cr">189</text>
<text x="1110.5" y="522.53" class="c">51</text>
<text x="1125.5" y="522.53" class="c">809</text>
<text x="1110.5" y="529.43" class="c">284</text>
<text x="1125.5" y="529.43" class="c">427</text>
<text x="1110.5" y="536.32" class="c">408</text>
<text x="1125.5" y="536.32" class="c">492</text>
<text x="1110.5" y="543.22" class="c">604</text>
<text x="1125.5" y="543.22" class="cr">198</text>
<text x="1110.5" y="550.11" class="c">28</text>
<text x="1125.5" y="550.11" class="c">0</text>
<text x="1147.5" y="481.15" class="c">0</text>
<text x="1162.5" y="481.15" class="c">0</text>
<text x="1155" y="542.53" class="br">175</text>
<text x="1147.5" y="488.05" class="c">0</text>
<text x="1162.5" y="488.05" class="c">294</text>
<text x="1147.5" y="494.94" class="c">458</text>
<text x="1162.5" y="494.94" class="c">415</text>
<text x="1147.5" y="501.84" class="c">275</text>
<text x="1162.5" y="501.84" class="c">879</text>
<text x="1147.5" y="508.74" class="c">295</text>
<text x="1162.5" y="508.74" class="c">284</text>
<text x="1147.5" y="515.63" class="c">227</text>
<text x="1162.5" y="515.63" class="c">892</text>
<text x="1147.5" y="522.53" class="c">574</text>
<text x="1162.5" y="522.53" class="c">608</text>
<text x="1147.5" y="529.43" class="c">499</text>
<text x="1162.5" y="529.43" class="c">287</text>
<text x="1147.5" y="536.32" class="c">188</text>
<text x="1162.5" y="536.32" class="c">8</text>
<text x="1185.5" y="446.67" class="c">0</text>
<text x="1200.5" y="446.67" class="c">1</text>
<text x="1193" y="521.84" class="br">779</text>
<text x="1185.5" y="453.56" class="c">14</text>
<text x="1200.5" y="453.56" class="c">601</text>
<text x="1185.5" y="460.46" class="c">896</text>
<text x="1200.5" y="460.46" class="c">597</text>
<text x="1185.5" y="467.36" class="c">485</text>
<text x="1200.5" y="467.36" class="c">709</text>
<text x="1185.5" y="474.25" class="c">518</text>
<text x="1200.5" y="474.25" class="c">852</text>
<text x="1185.5" y="481.15" class="c">476</text>
<text x="1200.5" y="481.15" class="c">291</text>
<text x="1185.5" y="488.05" class="c">828</text>
<text x="1200.5" y="488.05" class="c">882</text>
<text x="1185.5" y="494.94" class="c">181</text>
<text x="1200.5" y="494.94" class="c">174</text>
<text x="1185.5" y="501.84" class="c">218</text>
<text x="1200.5" y="501.84" class="c">209</text>
<text x="1185.5" y="508.74" class="c">812</text>
<text x="1200.5" y="508.74" class="cr">52</text>
<text x="1185.5" y="515.63" class="c">8</text>
<text x="1200.5" y="515.63" class="c">0</text>
<text x="1222.5" y="439.77" class="c">1</text>
<text x="1237.5" y="439.77" class="c">1</text>
<text x="1230" y="528.74" class="bg">-672</text>
<text x="1222.5" y="446.67" class="c">0</text>
<text x="1237.5" y="446.67" class="cr">607</text>
<text x="1222.5" y="453.56" class="c">85</text>
<text x="1237.5" y="453.56" class="c">8</text>
<text x="1222.5" y="460.46" class="cg">90</text>
<text x="1237.5" y="460.46" class="c">682</text>
<text x="1222.5" y="467.36" class="c">910</text>
<text x="1237.5" y="467.36" class="c">225</text>
<text x="1222.5" y="474.25" class="c">478</text>
<text x="1237.5" y="474.25" class="c">641</text>
<text x="1222.5" y="481.15" class="c">605</text>
<text x="1237.5" y="481.15" class="c">800</text>
<text x="1222.5" y="488.05" class="c">171</text>
<text x="1237.5" y="488.05" class="c">95</text>
<text x="1222.5" y="494.94" class="c">85</text>
<text x="1237.5" y="494.94" class="c">220</text>
<text x="1222.5" y="501.84" class="c">888</text>
<text x="1237.5" y="501.84" class="c">418</text>
<text x="1222.5" y="508.74" class="c">761</text>
<text x="1237.5" y="508.74" class="c">108</text>
<text x="1222.5" y="515.63" class="c">188</text>
<text x="1237.5" y="515.63" class="c">75</text>
<text x="1222.5" y="522.53" class="c">182</text>
<text x="1237.5" y="522.53" class="c">0</text>
<text x="1260.5" y="370.80" class="c">0</text>
<text x="1275.5" y="370.80" class="c">4</text>
<text x="1268" y="473.56" class="br">2665</text>
<text x="1260.5" y="377.70" class="c">97</text>
<text x="1275.5" y="377.70" class="c">411</text>
<text x="1260.5" y="384.60" class="c">710</text>
<text x="1275.5" y="384.60" class="c">1096</text>
<text x="1260.5" y="391.49" class="c">784</text>
<text x="1275.5" y="391.49" class="c">685</text>
<text x="1260.5" y="398.39" class="c">589</text>
<text x="1275.5" y="398.39" class="c">719</text>
<text x="1260.5" y="405.29" class="c">475</text>
<text x="1275.5" y="405.29" class="c">791</text>
<text x="1260.5" y="412.18" class="c">827</text>
<text x="1275.5" y="412.18" class="c">598</text>
<text x="1260.5" y="419.08" class="c">641</text>
<text x="1275.5" y="419.08" class="cr">608</text>
<text x="1260.5" y="425.98" class="c">0</text>
<text x="1275.5" y="425.98" class="cr">281</text>
<text x="1260.5" y="432.87" class="c">0</text>
<text x="1275.5" y="432.87" class="c">500</text>
<text x="1260.5" y="439.77" class="c">827</text>
<text x="1275.5" y="439.77" class="c">608</text>
<text x="1260.5" y="446.67" class="c">194</text>
<text x="1275.5" y="446.67" class="cr">218</text>
<text x="1260.5" y="453.56" class="c">12</text>
<text x="1275.5" y="453.56" class="cr">598</text>
<text x="1260.5" y="460.46" class="c">0</text>
<text x="1275.5" y="460.46" class="c">91</text>
<text x="1260.5" y="467.36" class="c">55</text>
<text x="1275.5" y="467.36" class="c">44</text>
<text x="1297.5" y="343.22" class="c">0</text>
<text x="1312.5" y="343.22" class="c">1</text>
<text x="1305" y="390.80" class="br">964</text>
<text x="1297.5" y="350.11" class="c">0</text>
<text x="1312.5" y="350.11" class="c">110</text>
<text x="1297.5" y="357.01" class="c">182</text>
<text x="1312.5" y="357.01" class="c">699</text>
<text x="1297.5" y="363.91" class="c">812</text>
<text x="1312.5" y="363.91" class="c">1027</text>
<text x="1297.5" y="370.80" class="c">807</text>
<text x="1312.5" y="370.80" class="c">829</text>
<text x="1297.5" y="377.70" class="c">1088</text>
<text x="1312.5" y="377.70" class="cr">598</text>
<text x="1297.5" y="384.60" class="c">88</text>
<text x="1312.5" y="384.60" class="c">0</text>
<text x="1335.5" y="343.22" class="c">0</text>
<text x="1350.5" y="343.22" class="c">1</text>
<text x="1343" y="411.49" class="br">44</text>
<text x="1335.5" y="350.11" class="c">121</text>
<text x="1350.5" y="350.11" class="c">945</text>
<text x="1335.5" y="357.01" class="c">1028</text>
<text x="1350.5" y="357.01" class="cr">972</text>
<text x="1335.5" y="363.91" class="c">224</text>
<text x="1350.5" y="363.91" class="c">171</text>
<text x="1335.5" y="370.80" class="c">824</text>
<text x="1350.5" y="370.80" class="c">222</text>
<text x="1335.5" y="377.70" class="c">182</text>
<text x="1350.5" y="377.70" class="c">187</text>
<text x="1335.5" y="384.60" class="c">227</text>
<text x="1350.5" y="384.60" class="c">229</text>
<text x="1335.5" y="391.49" class="c">498</text>
<text x="1350.5" y="391.49" class="c">80</text>
<text x="1335.5" y="398.39" class="c">120</text>
<text x="1350.5" y="398.39" class="c">71</text>
<text x="1335.5" y="405.29" class="c">80</text>
<text x="1350.5" y="405.29" class="c">0</text>
<text x="1372.5" y="329.43" class="c">1</text>
<text x="1387.5" y="329.43" class="c">0</text>
<text x="1380" y="404.60" class="bg">-444</text>
<text x="1372.5" y="336.32" class="c">2</text>
<text x="1387.5" y="336.32" class="c">74</text>
<text x="1372.5" y="343.22" class="cg">472</text>
<text x="1387.5" y="343.22" class="c">484</text>
<text x="1372.5" y="350.11" class="c">282</text>
<text x="1387.5" y="350.11" class="c">280</text>
<text x="1372.5" y="357.01" class="c">298</text>
<text x="1387.5" y="357.01" class="c">408</text>
<text x="1372.5" y="363.91" class="c">586</text>
<text x="1387.5" y="363.91" class="c">685</text>
<text x="1372.5" y="370.80" class="c">824</text>
<text x="1387.5" y="370.80" class="c">808</text>
<text x="1372.5" y="377.70" class="c">548</text>
<text x="1387.5" y="377.70" class="c">289</text>
<text x="1372.5" y="384.60" class="c">112</text>
<text x="1387.5" y="384.60" class="c">182</text>
<text x="1372.5" y="391.49" class="c">144</text>
<text x="1387.5" y="391.49" class="c">128</text>
<text x="1372.5" y="398.39" class="c">122</text>
<text x="1387.5" y="398.39" class="c">0</text>
<text x="1410.5" y="308.74" class="c">1</text>
<text x="1425.5" y="308.74" class="c">8</text>
<text x="1418" y="411.49" class="br">4222</text>
<text x="1410.5" y="315.63" class="c">0</text>
<text x="1425.5" y="315.63" class="c">142</text>
<text x="1410.5" y="322.53" class="c">188</text>
<text x="1425.5" y="322.53" class="cr">1209</text>
<text x="1410.5" y="329.43" class="c">181</text>
<text x="1425.5" y="329.43" class="c">520</text>
<text x="1410.5" y="336.32" class="c">108</text>
<text x="1425.5" y="336.32" class="c">1482</text>
<text x="1410.5" y="343.22" class="c">698</text>
<text x="1425.5" y="343.22" class="c">988</text>
<text x="1410.5" y="350.11" class="c">690</text>
<text x="1425.5" y="350.11" class="c">829</text>
<text x="1410.5" y="357.01" class="c">815</text>
<text x="1425.5" y="357.01" class="c">280</text>
<text x="1410.5" y="363.91" class="c">108</text>
<text x="1425.5" y="363.91" class="c">187</text>
<text x="1410.5" y="370.80" class="c">248</text>
<text x="1425.5" y="370.80" class="cr">198</text>
<text x="1410.5" y="377.70" class="c">47</text>
<text x="1425.5" y="377.70" class="cr">247</text>
<text x="1410.5" y="384.60" class="c">85</text>
<text x="1425.5" y="384.60" class="c">61</text>
<text x="1410.5" y="391.49" class="cg">414</text>
<text x="1425.5" y="391.49" class="c">427</text>
<text x="1410.5" y="398.39" class="c">192</text>
<text x="1425.5" y="398.39" class="c">117</text>
<text x="1410.5" y="405.29" class="c">42</text>
<text x="1425.5" y="405.29" class="c">0</text>
<text x="1447.5" y="212.18" class="c">0</text>
<text x="1462.5" y="212.18" class="c">5</text>
<text x="1455" y="342.53" class="br">5466</text>
<text x="1447.5" y="219.08" class="c">0</text>
<text x="1462.5" y="219.08" class="c">52</text>
<text x="1447.5" y="225.98" class="c">81</text>
<text x="1462.5" y="225.98" class="c">777</text>
<text x="1447.5" y="232.87" class="c">880</text>
<text x="1462.5" y="232.87" class="c">528</text>
<text x="1447.5" y="239.77" class="c">751</text>
<text x="1462.5" y="239.77" class="c">698</text>
<text x="1447.5" y="246.67" class="c">696</text>
<text x="1462.5" y="246.67" class="c">1830</text>
<text x="1447.5" y="253.56" class="c">898</text>
<text x="1462.5" y="253.56" class="c">1514</text>
<text x="1447.5" y="260.46" class="c">595</text>
<text x="1462.5" y="260.46" class="c">988</text>
<text x="1447.5" y="267.36" class="c">1687</text>
<text x="1462.5" y="267.36" class="c">2291</text>
<text x="1447.5" y="274.25" class="c">980</text>
<text x="1462.5" y="274.25" class="c">1468</text>
<text x="1447.5" y="281.15" class="c">1087</text>
<text x="1462.5" y="281.15" class="c">1487</text>
<text x="1447.5" y="288.05" class="c">878</text>
<text x="1462.5" y="288.05" class="cr">798</text>
<text x="1447.5" y="294.94" class="c">208</text>
<text x="1462.5" y="294.94" class="cr">149</text>
<text x="1447.5" y="301.84" class="c">8</text>
<text x="1462.5" y="301.84" class="cr">687</text>
<text x="1447.5" y="308.74" class="c">0</text>
<text x="1462.5" y="308.74" class="cr">1009</text>
<text x="1447.5" y="315.63" class="c">240</text>
<text x="1462.5" y="315.63" class="c">127</text>
<text x="1447.5" y="322.53" class="c">47</text>
<text x="1462.5" y="322.53" class="c">471</text>
<text x="1447.5" y="329.43" class="c">289</text>
<text x="1462.5" y="329.43" class="cr">108</text>
<text x="1447.5" y="336.32" class="c">11</text>
<text x="1462.5" y="336.32" class="c">0</text>
<text x="1485.5" y="212.18" class="c">0</text>
<text x="1500.5" y="212.18" class="c">0</text>
<text x="1493" y="314.94" class="bg">-1466</text>
<text x="1485.5" y="219.08" class="c">187</text>
<text x="1500.5" y="219.08" class="c">698</text>
<text x="1485.5" y="225.98" class="c">227</text>
<text x="1500.5" y="225.98" class="c">208</text>
<text x="1485.5" y="232.87" class="c">882</text>
<text x="1500.5" y="232.87" class="c">4182</text>
<text x="1485.5" y="239.77" class="c">807</text>
<text x="1500.5" y="239.77" class="c">517</text>
<text x="1485.5" y="246.67" class="c">487</text>
<text x="1500.5" y="246.67" class="c">886</text>
<text x="1485.5" y="253.56" class="c">408</text>
<text x="1500.5" y="253.56" class="c">274</text>
<text x="1485.5" y="260.46" class="c">447</text>
<text x="1500.5" y="260.46" class="c">818</text>
<text x="1485.5" y="267.36" class="c">579</text>
<text x="1500.5" y="267.36" class="c">587</text>
<text x="1485.5" y="274.25" class="c">655</text>
<text x="1500.5" y="274.25" class="c">865</text>
<text x="1485.5" y="281.15" class="c">889</text>
<text x="1500.5" y="281.15" class="c">865</text>
<text x="1485.5" y="288.05" class="c">777</text>
<text x="1500.5" y="288.05" class="c">880</text>
<text x="1485.5" y="294.94" class="c">1870</text>
<text x="1500.5" y="294.94" class="c">700</text>
<text x="1485.5" y="301.84" class="c">928</text>
<text x="1500.5" y="301.84" class="c">868</text>
<text x="1485.5" y="308.74" class="c">428</text>
<text x="1500.5" y="308.74" class="c">0</text>
<text x="1522.5" y="239.77" class="c">1</text>
<text x="1537.5" y="239.77" class="c">0</text>
<text x="1530" y="314.94" class="br">110</text>
<text x="1522.5" y="246.67" class="c">0</text>
<text x="1537.5" y="246.67" class="c">27</text>
<text x="1522.5" y="253.56" class="cg">244</text>
<text x="1537.5" y="253.56" class="c">867</text>
<text x="1522.5" y="260.46" class="c">587</text>
<text x="1537.5" y="260.46" class="c">448</text>
<text x="1522.5" y="267.36" class="c">484</text>
<text x="1537.5" y="267.36" class="c">229</text>
<text x="1522.5" y="274.25" class="c">712</text>
<text x="1537.5" y="274.25" class="c">887</text>
<text x="1522.5" y="281.15" class="c">282</text>
<text x="1537.5" y="281.15" class="c">707</text>
<text x="1522.5" y="288.05" class="c">808</text>
<text x="1537.5" y="288.05" class="c">275</text>
<text x="1522.5" y="294.94" class="c">286</text>
<text x="1537.5" y="294.94" class="c">218</text>
<text x="1522.5" y="301.84" class="c">289</text>
<text x="1537.5" y="301.84" class="c">98</text>
<text x="1522.5" y="308.74" class="c">61</text>
<text x="1537.5" y="308.74" class="c">0</text>
<text x="1560.5" y="246.67" class="c">8</text>
<text x="1575.5" y="246.67" class="c">0</text>
<text x="1568" y="411.49" class="bg">-2899</text>
<text x="1560.5" y="253.56" class="c">89</text>
<text x="1575.5" y="253.56" class="c">555</text>
<text x="1560.5" y="260.46" class="c">458</text>
<text x="1575.5" y="260.46" class="c">192</text>
<text x="1560.5" y="267.36" class="c">100</text>
<text x="1575.5" y="267.36" class="c">44</text>
<text x="1560.5" y="274.25" class="cg">244</text>
<text x="1575.5" y="274.25" class="c">171</text>
<text x="1560.5" y="281.15" class="c">100</text>
<text x="1575.5" y="281.15" class="c">91</text>
<text x="1560.5" y="288.05" class="cg">447</text>
<text x="1575.5" y="288.05" class="c">441</text>
<text x="1560.5" y="294.94" class="c">485</text>
<text x="1575.5" y="294.94" class="c">297</text>
<text x="1560.5" y="301.84" class="c">218</text>
<text x="1575.5" y="301.84" class="c">242</text>
<text x="1560.5" y="308.74" class="c">427</text>
<text x="1575.5" y="308.74" class="c">287</text>
<text x="1560.5" y="315.63" class="c">871</text>
<text x="1575.5" y="315.63" class="c">184</text>
<text x="1560.5" y="322.53" class="cg">498</text>
<text x="1575.5" y="322.53" class="c">489</text>
<text x="1560.5" y="329.43" class="c">858</text>
<text x="1575.5" y="329.43" class="c">87</text>
<text x="1560.5" y="336.32" class="cg">518</text>
<text x="1575.5" y="336.32" class="c">682</text>
<text x="1560.5" y="343.22" class="c">749</text>
<text x="1575.5" y="343.22" class="c">299</text>
<text x="1560.5" y="350.11" class="c">588</text>
<text x="1575.5" y="350.11" class="c">52</text>
<text x="1560.5" y="357.01" class="cg">248</text>
<text x="1575.5" y="357.01" class="c">829</text>
<text x="1560.5" y="363.91" class="c">891</text>
<text x="1575.5" y="363.91" class="c">20</text>
<text x="1560.5" y="370.80" class="cg">124</text>
<text x="1575.5" y="370.80" class="c">17</text>
<text x="1560.5" y="377.70" class="cg">196</text>
<text x="1575.5" y="377.70" class="c">85</text>
<text x="1560.5" y="384.60" class="c">184</text>
<text x="1575.5" y="384.60" class="c">109</text>
<text x="1560.5" y="391.49" class="c">680</text>
<text x="1575.5" y="391.49" class="c">428</text>
<text x="1560.5" y="398.39" class="c">218</text>
<text x="1575.5" y="398.39" class="c">28</text>
<text x="1560.5" y="405.29" class="cg">142</text>
<text x="1575.5" y="405.29" class="c">0</text>
<text x="1597.5" y="357.01" class="c">1</text>
<text x="1612.5" y="357.01" class="c">0</text>
<text x="1605" y="452.87" class="bg">-245</text>
<text x="1597.5" y="363.91" class="c">0</text>
<text x="1612.5" y="363.91" class="c">109</text>
<text x="1597.5" y="370.80" class="c">292</text>
<text x="1612.5" y="370.80" class="c">720</text>
<text x="1597.5" y="377.70" class="c">527</text>
<text x="1612.5" y="377.70" class="c">928</text>
<text x="1597.5" y="384.60" class="c">1079</text>
<text x="1612.5" y="384.60" class="c">1875</text>
<text x="1597.5" y="391.49" class="c">844</text>
<text x="1612.5" y="391.49" class="c">549</text>
<text x="1597.5" y="398.39" class="c">558</text>
<text x="1612.5" y="398.39" class="c">418</text>
<text x="1597.5" y="405.29" class="c">472</text>
<text x="1612.5" y="405.29" class="c">804</text>
<text x="1597.5" y="412.18" class="c">608</text>
<text x="1612.5" y="412.18" class="c">190</text>
<text x="1597.5" y="419.08" class="cg">818</text>
<text x="1612.5" y="419.08" class="c">258</text>
<text x="1597.5" y="425.98" class="c">285</text>
<text x="1612.5" y="425.98" class="c">608</text>
<text x="1597.5" y="432.87" class="c">588</text>
<text x="1612.5" y="432.87" class="c">580</text>
<text x="1597.5" y="439.77" class="c">826</text>
<text x="1612.5" y="439.77" class="c">608</text>
<text x="1597.5" y="446.67" class="c">518</text>
<text x="1612.5" y="446.67" class="c">0</text>
</g>
<rect x="239" y="774" width="32" height="18" fill="rgba(40,170,70,0.32)"/>
<rect x="802" y="606" width="32" height="18" fill="rgba(40,170,70,0.32)"/>
<rect x="652.5" y="750" width="1259.5" height="18" fill="rgba(115,15,35,0.45)"/>
<rect x="1440.0" y="246" width="105.0" height="24" fill="rgba(115,15,35,0.45)"/>
<rect x="1901.0" y="187" width="3.0" height="5" fill="#652930"/>
<rect x="1904.0" y="187" width="8.0" height="5" fill="#434c25"/>
<rect x="1888.0" y="193" width="6.0" height="5" fill="#652930"/>
<rect x="1894.0" y="193" width="18.0" height="5" fill="#434c25"/>
<rect x="1882.5" y="199" width="12.5" height="5" fill="#652930"/>
<rect x="1895.0" y="199" width="17.0" height="5" fill="#434c25"/>
<rect x="1870.5" y="205" width="19.5" height="5" fill="#652930"/>
<rect x="1890.0" y="205" width="22.0" height="5" fill="#434c25"/>
<rect x="1861.0" y="211" width="21.0" height="5" fill="#652930"/>
<rect x="1882.0" y="211" width="30.0" height="5" fill="#434c25"/>
<rect x="1826.0" y="217" width="28.5" height="5" fill="#652930"/>
<rect x="1854.5" y="217" width="57.5" height="5" fill="#434c25"/>
<rect x="1841.0" y="223" width="37.0" height="5" fill="#652930"/>
<rect x="1878.0" y="223" width="34.0" height="5" fill="#434c25"/>
<rect x="1805.5" y="229" width="50.5" height="5" fill="#652930"/>
<rect x="1856.0" y="229" width="56.0" height="5" fill="#434c25"/>
<rect x="1826.0" y="235" width="35.0" height="5" fill="#652930"/>
<rect x="1861.0" y="235" width="51.0" height="5" fill="#434c25"/>
<rect x="1815.0" y="241" width="41.5" height="5" fill="#652930"/>
<rect x="1856.5" y="241" width="55.5" height="5" fill="#434c25"/>
<rect x="1819.0" y="247" width="50.5" height="5" fill="#652930"/>
<rect x="1869.5" y="247" width="42.5" height="5" fill="#434c25"/>
<rect x="1847.0" y="253" width="41.5" height="5" fill="#652930"/>
<rect x="1888.5" y="253" width="23.5" height="5" fill="#434c25"/>
<rect x="1866.0" y="259" width="25.5" height="5" fill="#652930"/>
<rect x="1891.5" y="259" width="20.5" height="5" fill="#434c25"/>
<rect x="1872.5" y="265" width="16.5" height="5" fill="#652930"/>
<rect x="1889.0" y="265" width="23.0" height="5" fill="#434c25"/>
<rect x="1893.5" y="271" width="10.8" height="5" fill="#652930"/>
<rect x="1904.3" y="271" width="7.7" height="5" fill="#434c25"/>
<rect x="1862.0" y="277" width="15.0" height="5" fill="#652930"/>
<rect x="1877.0" y="277" width="35.0" height="5" fill="#434c25"/>
<rect x="1886.4" y="283" width="13.2" height="5" fill="#652930"/>
<rect x="1899.6" y="283" width="12.4" height="5" fill="#434c25"/>
<rect x="1865.3" y="289" width="12.6" height="5" fill="#652930"/>
<rect x="1877.9" y="289" width="34.1" height="5" fill="#434c25"/>
<rect x="1846.7" y="295" width="33.9" height="5" fill="#652930"/>
<rect x="1880.6" y="295" width="31.4" height="5" fill="#434c25"/>
<rect x="1843.1" y="301" width="28.9" height="5" fill="#652930"/>
<rect x="1872.0" y="301" width="40.0" height="5" fill="#434c25"/>
<rect x="1825.7" y="307" width="37.3" height="5" fill="#652930"/>
<rect x="1863.0" y="307" width="49.0" height="5" fill="#434c25"/>
<rect x="1844.8" y="313" width="29.0" height="5" fill="#652930"/>
<rect x="1873.8" y="313" width="38.2" height="5" fill="#434c25"/>
<rect x="1825.2" y="319" width="43.4" height="5" fill="#652930"/>
<rect x="1868.6" y="319" width="43.4" height="5" fill="#434c25"/>
<rect x="1816.9" y="325" width="46.9" height="5" fill="#652930"/>
<rect x="1863.8" y="325" width="48.2" height="5" fill="#434c25"/>
<rect x="1806.2" y="331" width="44.2" height="5" fill="#652930"/>
<rect x="1850.4" y="331" width="61.6" height="5" fill="#434c25"/>
<rect x="1825.5" y="337" width="46.0" height="5" fill="#ee4a3a"/>
<rect x="1871.5" y="337" width="40.5" height="5" fill="#22a022"/>
<rect x="1855.4" y="343" width="32.6" height="5" fill="#b0372c"/>
<rect x="1888.0" y="343" width="24.0" height="5" fill="#1f6e1b"/>
<rect x="1870.4" y="349" width="21.9" height="5" fill="#b0372c"/>
<rect x="1892.3" y="349" width="19.7" height="5" fill="#1f6e1b"/>
<rect x="1880.6" y="355" width="17.4" height="5" fill="#b0372c"/>
<rect x="1898.0" y="355" width="14.0" height="5" fill="#1f6e1b"/>
<rect x="1883.8" y="361" width="17.1" height="5" fill="#b0372c"/>
<rect x="1900.9" y="361" width="11.1" height="5" fill="#1f6e1b"/>
<rect x="1896.4" y="367" width="4.3" height="5" fill="#b0372c"/>
<rect x="1900.7" y="367" width="11.3" height="5" fill="#1f6e1b"/>
<rect x="1884.3" y="373" width="8.2" height="5" fill="#b0372c"/>
<rect x="1892.5" y="373" width="19.5" height="5" fill="#1f6e1b"/>
<rect x="1877.1" y="379" width="20.9" height="5" fill="#b0372c"/>
<rect x="1898.0" y="379" width="14.0" height="5" fill="#1f6e1b"/>
<rect x="1890.0" y="385" width="12.8" height="5" fill="#b0372c"/>
<rect x="1902.8" y="385" width="9.2" height="5" fill="#1f6e1b"/>
<rect x="1887.2" y="391" width="1.7" height="5" fill="#b0372c"/>
<rect x="1888.9" y="391" width="23.1" height="5" fill="#1f6e1b"/>
<rect x="1880.0" y="397" width="8.7" height="5" fill="#b0372c"/>
<rect x="1888.7" y="397" width="23.3" height="5" fill="#1f6e1b"/>
<rect x="1867.9" y="403" width="25.9" height="5" fill="#b0372c"/>
<rect x="1893.8" y="403" width="18.2" height="5" fill="#1f6e1b"/>
<rect x="1873.1" y="409" width="17.9" height="5" fill="#b0372c"/>
<rect x="1891.0" y="409" width="21.0" height="5" fill="#1f6e1b"/>
<rect x="1885.1" y="415" width="13.9" height="5" fill="#b0372c"/>
<rect x="1899.0" y="415" width="13.0" height="5" fill="#1f6e1b"/>
<rect x="1872.0" y="421" width="11.1" height="5" fill="#b0372c"/>
<rect x="1883.1" y="421" width="28.9" height="5" fill="#1f6e1b"/>
<rect x="1862.7" y="427" width="27.3" height="5" fill="#b0372c"/>
<rect x="1890.0" y="427" width="22.0" height="5" fill="#1f6e1b"/>
<rect x="1847.4" y="433" width="31.8" height="5" fill="#b0372c"/>
<rect x="1879.2" y="433" width="32.8" height="5" fill="#1f6e1b"/>
<rect x="1847.2" y="439" width="40.6" height="5" fill="#b0372c"/>
<rect x="1887.8" y="439" width="24.2" height="5" fill="#1f6e1b"/>
<rect x="1867.0" y="445" width="17.3" height="5" fill="#b0372c"/>
<rect x="1884.3" y="445" width="27.7" height="5" fill="#1f6e1b"/>
<rect x="1843.1" y="451" width="32.9" height="5" fill="#b0372c"/>
<rect x="1876.0" y="451" width="36.0" height="5" fill="#1f6e1b"/>
<rect x="1862.1" y="457" width="27.9" height="5" fill="#b0372c"/>
<rect x="1890.0" y="457" width="22.0" height="5" fill="#1f6e1b"/>
<rect x="1859.0" y="463" width="22.0" height="5" fill="#b0372c"/>
<rect x="1881.0" y="463" width="31.0" height="5" fill="#1f6e1b"/>
<rect x="1876.1" y="469" width="20.5" height="5" fill="#b0372c"/>
<rect x="1896.6" y="469" width="15.4" height="5" fill="#1f6e1b"/>
<rect x="1888.0" y="475" width="13.1" height="5" fill="#b0372c"/>
<rect x="1901.1" y="475" width="10.9" height="5" fill="#1f6e1b"/>
<rect x="1888.3" y="481" width="8.3" height="5" fill="#b0372c"/>
<rect x="1896.6" y="481" width="15.4" height="5" fill="#1f6e1b"/>
<rect x="1881.1" y="487" width="12.3" height="5" fill="#b0372c"/>
<rect x="1893.4" y="487" width="18.6" height="5" fill="#1f6e1b"/>
<rect x="1876.1" y="493" width="16.9" height="5" fill="#b0372c"/>
<rect x="1893.0" y="493" width="19.0" height="5" fill="#1f6e1b"/>
<rect x="1884.8" y="499" width="15.5" height="5" fill="#b0372c"/>
<rect x="1900.3" y="499" width="11.7" height="5" fill="#1f6e1b"/>
<rect x="1881.2" y="505" width="14.1" height="5" fill="#b0372c"/>
<rect x="1895.3" y="505" width="16.7" height="5" fill="#1f6e1b"/>
<rect x="1862.1" y="511" width="22.1" height="5" fill="#b0372c"/>
<rect x="1884.2" y="511" width="27.8" height="5" fill="#1f6e1b"/>
<rect x="1858.3" y="517" width="21.4" height="5" fill="#b0372c"/>
<rect x="1879.7" y="517" width="32.3" height="5" fill="#1f6e1b"/>
<rect x="1875.4" y="523" width="25.5" height="5" fill="#b0372c"/>
<rect x="1900.9" y="523" width="11.1" height="5" fill="#1f6e1b"/>
<rect x="1877.4" y="529" width="15.6" height="5" fill="#b0372c"/>
<rect x="1893.0" y="529" width="19.0" height="5" fill="#1f6e1b"/>
<rect x="1877.0" y="535" width="16.9" height="5" fill="#b0372c"/>
<rect x="1893.9" y="535" width="18.1" height="5" fill="#1f6e1b"/>
<rect x="1866.7" y="541" width="25.3" height="5" fill="#b0372c"/>
<rect x="1892.0" y="541" width="20.0" height="5" fill="#1f6e1b"/>
<rect x="1869.2" y="547" width="22.1" height="5" fill="#b0372c"/>
<rect x="1891.3" y="547" width="20.7" height="5" fill="#1f6e1b"/>
<rect x="1888.2" y="553" width="8.7" height="5" fill="#b0372c"/>
<rect x="1896.9" y="553" width="15.1" height="5" fill="#1f6e1b"/>
<rect x="1887.8" y="559" width="12.5" height="5" fill="#b0372c"/>
<rect x="1900.3" y="559" width="11.7" height="5" fill="#1f6e1b"/>
<rect x="1896.9" y="565" width="10.2" height="5" fill="#b0372c"/>
<rect x="1907.1" y="565" width="4.9" height="5" fill="#1f6e1b"/>
<rect x="1872.9" y="571" width="4.2" height="5" fill="#b0372c"/>
<rect x="1877.1" y="571" width="34.9" height="5" fill="#1f6e1b"/>
<rect x="1901.1" y="577" width="2.8" height="5" fill="#b0372c"/>
<rect x="1903.9" y="577" width="8.1" height="5" fill="#1f6e1b"/>
<rect x="1891.3" y="583" width="9.6" height="5" fill="#b0372c"/>
<rect x="1900.9" y="583" width="11.1" height="5" fill="#1f6e1b"/>
<rect x="1876.8" y="589" width="15.2" height="5" fill="#b0372c"/>
<rect x="1892.0" y="589" width="20.0" height="5" fill="#1f6e1b"/>
<rect x="1866.4" y="595" width="19.7" height="5" fill="#b0372c"/>
<rect x="1886.1" y="595" width="25.9" height="5" fill="#1f6e1b"/>
<rect x="1858.1" y="601" width="21.4" height="5" fill="#b0372c"/>
<rect x="1879.5" y="601" width="32.5" height="5" fill="#1f6e1b"/>
<rect x="1858.4" y="607" width="35.9" height="5" fill="#b0372c"/>
<rect x="1894.3" y="607" width="17.7" height="5" fill="#1f6e1b"/>
<rect x="1877.4" y="613" width="18.9" height="5" fill="#b0372c"/>
<rect x="1896.3" y="613" width="15.7" height="5" fill="#1f6e1b"/>
<rect x="1846.9" y="619" width="38.2" height="5" fill="#b0372c"/>
<rect x="1885.1" y="619" width="26.9" height="5" fill="#1f6e1b"/>
<rect x="1839.4" y="625" width="38.8" height="5" fill="#b0372c"/>
<rect x="1878.2" y="625" width="33.8" height="5" fill="#1f6e1b"/>
<rect x="1850.3" y="631" width="33.5" height="5" fill="#b0372c"/>
<rect x="1883.8" y="631" width="28.2" height="5" fill="#1f6e1b"/>
<rect x="1867.0" y="637" width="33.1" height="5" fill="#b0372c"/>
<rect x="1900.1" y="637" width="11.9" height="5" fill="#1f6e1b"/>
<rect x="1885.9" y="643" width="12.3" height="5" fill="#b0372c"/>
<rect x="1898.2" y="643" width="13.8" height="5" fill="#1f6e1b"/>
<rect x="1870.1" y="649" width="22.2" height="5" fill="#b0372c"/>
<rect x="1892.3" y="649" width="19.7" height="5" fill="#1f6e1b"/>
<rect x="1886.1" y="655" width="13.2" height="5" fill="#b0372c"/>
<rect x="1899.3" y="655" width="12.7" height="5" fill="#1f6e1b"/>
<rect x="1888.0" y="661" width="4.3" height="5" fill="#b0372c"/>
<rect x="1892.3" y="661" width="19.7" height="5" fill="#1f6e1b"/>
<rect x="1877.9" y="667" width="20.1" height="5" fill="#b0372c"/>
<rect x="1898.0" y="667" width="14.0" height="5" fill="#1f6e1b"/>
<rect x="1867.2" y="673" width="13.0" height="5" fill="#b0372c"/>
<rect x="1880.2" y="673" width="31.8" height="5" fill="#1f6e1b"/>
<rect x="1866.1" y="679" width="21.1" height="5" fill="#b0372c"/>
<rect x="1887.2" y="679" width="24.8" height="5" fill="#1f6e1b"/>
<rect x="1851.7" y="685" width="29.5" height="5" fill="#b0372c"/>
<rect x="1881.2" y="685" width="30.8" height="5" fill="#1f6e1b"/>
<rect x="1799.5" y="691" width="71.4" height="5" fill="#b0372c"/>
<rect x="1870.9" y="691" width="41.1" height="5" fill="#1f6e1b"/>
<rect x="1843.7" y="697" width="27.8" height="5" fill="#b0372c"/>
<rect x="1871.5" y="697" width="40.5" height="5" fill="#1f6e1b"/>
<rect x="1854.8" y="703" width="28.2" height="5" fill="#b0372c"/>
<rect x="1883.0" y="703" width="29.0" height="5" fill="#1f6e1b"/>
<rect x="1856.4" y="709" width="37.6" height="5" fill="#b0372c"/>
<rect x="1894.0" y="709" width="18.0" height="5" fill="#1f6e1b"/>
<rect x="1878.0" y="715" width="16.5" height="5" fill="#b0372c"/>
<rect x="1894.5" y="715" width="17.5" height="5" fill="#1f6e1b"/>
<rect x="1858.3" y="721" width="29.7" height="5" fill="#b0372c"/>
<rect x="1888.0" y="721" width="24.0" height="5" fill="#1f6e1b"/>
<rect x="1883.3" y="727" width="14.8" height="5" fill="#b0372c"/>
<rect x="1898.1" y="727" width="13.9" height="5" fill="#1f6e1b"/>
<rect x="1866.0" y="733" width="20.9" height="5" fill="#b0372c"/>
<rect x="1886.9" y="733" width="25.1" height="5" fill="#1f6e1b"/>
<rect x="1827.1" y="739" width="28.9" height="5" fill="#b0372c"/>
<rect x="1856.0" y="739" width="56.0" height="5" fill="#1f6e1b"/>
<rect x="1791.1" y="745" width="48.9" height="5" fill="#b0372c"/>
<rect x="1840.0" y="745" width="72.0" height="5" fill="#1f6e1b"/>
<rect x="1732.1" y="751" width="91.8" height="5" fill="#ee4a3a"/>
<rect x="1823.9" y="751" width="88.1" height="5" fill="#22a022"/>
<rect x="1742.4" y="757" width="75.7" height="5" fill="#b0372c"/>
<rect x="1818.1" y="757" width="93.9" height="5" fill="#1f6e1b"/>
<rect x="1766.1" y="763" width="88.6" height="5" fill="#b0372c"/>
<rect x="1854.7" y="763" width="57.3" height="5" fill="#1f6e1b"/>
<rect x="1837.6" y="769" width="40.6" height="5" fill="#b0372c"/>
<rect x="1878.2" y="769" width="33.8" height="5" fill="#1f6e1b"/>
<rect x="1829.0" y="775" width="40.4" height="5" fill="#b0372c"/>
<rect x="1869.4" y="775" width="42.6" height="5" fill="#1f6e1b"/>
<rect x="1860.1" y="781" width="40.8" height="5" fill="#b0372c"/>
<rect x="1900.9" y="781" width="11.1" height="5" fill="#1f6e1b"/>
<rect x="1889.1" y="787" width="21.4" height="5" fill="#b0372c"/>
<rect x="1910.5" y="787" width="1.5" height="5" fill="#1f6e1b"/>
<rect x="1909" y="793" width="3" height="5" fill="#e84a3a"/>
<rect x="8" y="339" width="1810" height="2" fill="rgba(68,105,210,0.7)"/>
<rect x="8" y="752" width="1716" height="2" fill="rgba(200,170,100,0.55)"/>
<rect x="8" y="794" width="1883" height="2" fill="rgba(165,60,185,0.65)"/>
<rect x="1817.5" y="337" width="8" height="5" fill="#3f5cab"/>
<text x="1821.5" y="341.3" class="lab">VAH</text>
<rect x="1724" y="750.5" width="8" height="5" fill="#d4b060"/>
<text x="1728" y="754.8" class="lab">POC</text>
<rect x="1891" y="793" width="7" height="5" fill="#c860d0"/>
<text x="1894.5" y="797.3" class="lab">VAL</text>
<rect x="8" y="659" width="1" height="50" fill="#8a8ea2"/>
<rect x="8" y="881" width="1904" height="1" fill="#2c3049"/>
<rect x="8" y="904" width="1904" height="2" fill="#272b43"/>
<rect x="960" y="881" width="1" height="24" fill="#2c3049"/>
<text x="483.5" y="897" class="sig">信号点</text>
<text x="1436" y="898" class="cum" textLength="61" lengthAdjust="spacingAndGlyphs">Cum Delta</text>
<text x="100.5" y="918.5" class="tl">02-19 22:30</text>
<text x="213" y="918.5" class="tl">02-20 09:15</text>
<text x="325.5" y="918.5" class="tl">02-20 10:00</text>
<text x="438" y="918.5" class="tl">02-20 11:00</text>
<text x="550.5" y="918.5" class="tl">02-20 13:45</text>
<text x="663" y="918.5" class="tl">02-20 14:30</text>
<text x="775" y="918.5" class="tl">02-20 21:15</text>
<text x="888" y="918.5" class="tl">02-20 22:00</text>
<text x="1000.5" y="918.5" class="tl">02-20 22:45</text>
<text x="1115.8" y="918.5" class="tl">09:30</text>
<text x="1228" y="918.5" class="tl">10:15</text>
<text x="1340.8" y="918.5" class="tl">11:15</text>
<text x="1453" y="918.5" class="tl">14:00</text>
<text x="1565.8" y="918.5" class="tl">14:45</text>
</svg>
<div class="abs" style="left:1710px;top:110px;width:17px;height:34px;border:1px solid #33374f;box-sizing:border-box;"></div>
<div class="abs" style="left:1711px;top:126.5px;width:15px;height:1px;background:#33374f;"></div>
<svg class="abs" style="left:1710px;top:110px" width="17" height="34" viewBox="0 0 17 34"><path d="M7 5.5 L10.2 8.5 L7 11.5" stroke="#d0d2dc" stroke-width="1.1" fill="none"/><text x="8.6" y="27.5" font-size="9" fill="#d0d2dc" text-anchor="middle" font-family="Liberation Sans">?</text></svg>
</body></html>
